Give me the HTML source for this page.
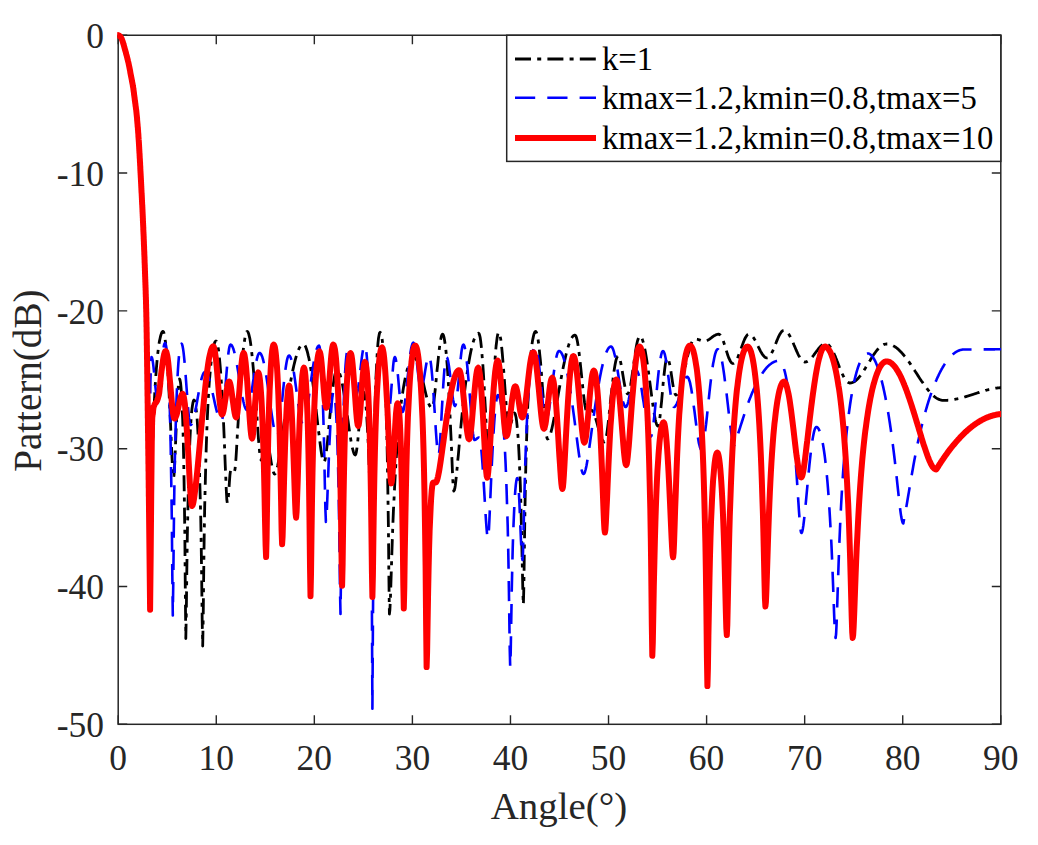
<!DOCTYPE html><html><head><meta charset="utf-8"><style>html,body{margin:0;padding:0;background:#fff;overflow:hidden}svg{display:block}text{font-family:"Liberation Serif",serif}</style></head><body>
<svg width="1038" height="845" viewBox="0 0 1038 845">
<rect width="1038" height="845" fill="#fff"/>
<defs><clipPath id="c"><rect x="117.2" y="20" width="883.80" height="720"/></clipPath></defs>
<rect x="118.2" y="35.25" width="882.60" height="689.05" fill="none" stroke="#262626" stroke-width="1.5"/><path d="M118.20 724.3v-9M118.20 35.25v9M216.27 724.3v-9M216.27 35.25v9M314.33 724.3v-9M314.33 35.25v9M412.40 724.3v-9M412.40 35.25v9M510.47 724.3v-9M510.47 35.25v9M608.53 724.3v-9M608.53 35.25v9M706.60 724.3v-9M706.60 35.25v9M804.67 724.3v-9M804.67 35.25v9M902.73 724.3v-9M902.73 35.25v9M1000.80 724.3v-9M1000.80 35.25v9M118.2 35.25h9M1000.8 35.25h-9M118.2 173.06h9M1000.8 173.06h-9M118.2 310.87h9M1000.8 310.87h-9M118.2 448.68h9M1000.8 448.68h-9M118.2 586.49h9M1000.8 586.49h-9M118.2 724.30h9M1000.8 724.30h-9" stroke="#262626" stroke-width="1.4" fill="none"/><g font-size="35.5" fill="#262626"><text x="118.20" y="769.5" text-anchor="middle">0</text><text x="216.27" y="769.5" text-anchor="middle">10</text><text x="314.33" y="769.5" text-anchor="middle">20</text><text x="412.40" y="769.5" text-anchor="middle">30</text><text x="510.47" y="769.5" text-anchor="middle">40</text><text x="608.53" y="769.5" text-anchor="middle">50</text><text x="706.60" y="769.5" text-anchor="middle">60</text><text x="804.67" y="769.5" text-anchor="middle">70</text><text x="902.73" y="769.5" text-anchor="middle">80</text><text x="1000.80" y="769.5" text-anchor="middle">90</text><text x="104" y="48.05" text-anchor="end">0</text><text x="104" y="185.86" text-anchor="end">-10</text><text x="104" y="323.67" text-anchor="end">-20</text><text x="104" y="461.48" text-anchor="end">-30</text><text x="104" y="599.29" text-anchor="end">-40</text><text x="104" y="737.10" text-anchor="end">-50</text></g><text x="559" y="819" text-anchor="middle" font-size="38.9" fill="#262626">Angle(°)</text><text transform="translate(41.2,380.7) rotate(-90)" text-anchor="middle" font-size="39.1" fill="#262626">Pattern(dB)</text>
<g clip-path="url(#c)" fill="none" stroke-linejoin="round"><path d="M118.2 35.2 118.5 35.4 119.0 35.6 119.5 35.8 120.0 36.3 120.5 36.8 120.9 37.4 121.5 38.3 122.1 39.8 122.3 40.5 122.6 41.3 122.9 42.2 123.2 43.1 123.5 44.2 123.8 45.2 124.1 46.3 124.4 47.4 124.7 48.5 125.0 49.6 125.3 50.7 125.6 51.7 125.9 52.7 126.1 53.7 126.4 54.7 126.7 55.6 126.9 56.6 127.2 57.6 127.4 58.6 127.7 59.6 127.9 60.6 128.1 61.5 128.4 62.5 128.6 63.5 128.8 64.5 129.0 65.5 129.2 66.4 129.4 67.4 129.6 68.4 129.8 69.4 130.0 70.4 130.2 71.4 130.3 72.3 130.5 73.3 130.7 74.3 130.9 75.3 131.1 76.3 131.3 77.3 131.5 78.3 131.7 79.3 131.9 80.3 132.0 81.2 132.2 82.2 132.4 83.2 132.6 84.2 132.8 85.2 132.9 86.2 133.1 87.2 133.3 88.3 133.4 89.3 133.6 90.4 133.7 91.4 133.9 92.5 134.0 93.6 134.1 94.6 134.3 95.7 134.4 96.8 134.6 97.9 134.7 99.0 134.8 100.0 135.0 100.9 135.1 101.9 135.2 102.9 135.4 104.0 135.5 105.0 135.6 106.0 135.8 107.0 135.9 108.0 136.0 109.0 136.2 110.0 136.3 111.0 136.4 112.0 136.5 113.0 136.6 114.0 136.7 115.0 136.8 115.9 136.9 116.9 137.0 117.8 137.1 118.8 137.1 119.7 137.2 120.7 137.3 121.8 137.4 122.9 137.5 124.0 137.6 124.9 137.6 125.7 137.7 126.6 137.8 127.4 137.9 128.2 137.9 129.1 138.0 130.0 138.1 130.9 138.1 131.8 138.2 132.8 138.3 133.8 138.4 134.9 138.4 136.1 138.5 137.3 138.6 138.6 138.7 140.0 138.8 140.8 138.8 141.6 138.9 142.4 138.9 143.2 139.0 144.1 139.0 144.9 139.1 145.8 139.1 146.7 139.2 147.6 139.2 148.5 139.3 149.4 139.3 150.4 139.4 151.3 139.4 152.3 139.5 153.3 139.6 154.3 139.6 155.4 139.7 156.4 139.7 157.5 139.8 158.6 139.9 159.8 139.9 160.9 140.0 162.1 140.1 163.3 140.1 164.6 140.2 165.8 140.3 167.1 140.3 168.4 140.4 169.8 140.4 170.6 140.5 171.5 140.5 172.3 140.6 173.2 140.6 174.1 140.7 174.9 140.7 175.9 140.8 176.8 140.8 177.7 140.9 178.7 140.9 179.6 141.0 180.6 141.0 181.6 141.1 182.5 141.1 183.5 141.2 184.6 141.2 185.6 141.3 186.6 141.3 187.6 141.4 188.7 141.4 189.7 141.5 190.8 141.5 191.8 141.6 192.9 141.7 193.9 141.7 195.0 141.8 196.1 141.8 197.1 141.9 198.2 141.9 199.3 142.0 200.4 142.0 201.5 142.1 202.5 142.1 203.6 142.2 204.7 142.3 205.8 142.3 206.9 142.4 207.9 142.4 209.0 142.5 210.1 142.5 211.2 142.6 212.2 142.6 213.3 142.7 214.3 142.7 215.4 142.8 216.4 142.8 217.5 142.9 218.5 142.9 219.5 142.9 220.5 143.0 221.5 143.0 222.5 143.1 223.6 143.1 224.6 143.2 225.6 143.2 226.6 143.3 227.6 143.3 228.6 143.3 229.7 143.4 230.7 143.4 231.7 143.5 232.7 143.5 233.7 143.6 234.7 143.6 235.8 143.7 236.8 143.7 237.8 143.7 238.8 143.8 239.8 143.8 240.8 143.9 241.9 143.9 242.9 143.9 243.9 144.0 244.9 144.0 245.9 144.1 246.9 144.1 248.0 144.1 249.0 144.2 250.0 144.2 251.0 144.3 252.0 144.3 253.0 144.3 254.1 144.4 255.1 144.4 256.1 144.5 257.1 144.5 258.1 144.5 259.1 144.6 260.2 144.6 261.2 144.6 262.2 144.7 263.2 144.7 264.2 144.8 265.2 144.8 266.3 144.8 267.3 144.9 268.3 144.9 269.3 144.9 270.3 145.0 271.3 145.0 272.3 145.0 273.3 145.1 274.2 145.1 275.2 145.1 276.1 145.2 277.1 145.2 278.0 145.2 278.9 145.3 279.9 145.3 280.8 145.3 281.7 145.4 282.6 145.4 283.5 145.4 284.4 145.5 285.3 145.5 286.2 145.5 287.1 145.6 288.0 145.6 289.0 145.6 289.9 145.7 290.8 145.7 291.7 145.7 292.7 145.8 293.6 145.8 294.6 145.8 295.5 145.8 296.5 145.9 297.5 145.9 298.4 145.9 299.4 146.0 300.5 146.0 301.5 146.0 302.5 146.0 303.6 146.1 304.6 146.1 305.7 146.1 306.8 146.2 308.0 146.2 309.1 146.2 310.3 146.2 311.4 146.3 312.6 146.3 313.9 146.3 315.1 146.3 316.4 146.4 317.7 146.4 319.0 146.4 319.8 146.4 320.6 146.4 321.5 146.5 322.3 146.5 323.2 146.5 324.0 146.5 324.9 146.5 325.7 146.5 326.6 146.6 327.5 146.6 328.4 146.6 329.3 146.6 330.2 146.6 331.2 146.6 332.1 146.6 333.0 146.7 334.0 146.7 334.9 146.7 335.9 146.7 336.8 146.7 337.8 146.7 338.8 146.7 339.8 146.8 340.7 146.8 341.7 146.8 342.7 146.8 343.7 146.8 344.7 146.8 345.7 146.8 346.7 146.9 347.8 146.9 348.8 146.9 349.8 146.9 350.8 146.9 351.9 146.9 352.9 146.9 353.9 146.9 355.0 147.0 356.0 147.0 357.1 147.0 358.1 147.0 359.2 147.0 360.2 147.0 361.3 147.0 362.4 147.0 363.4 147.1 364.5 147.1 365.5 147.1 366.6 147.1 367.7 147.1 368.7 147.1 369.8 147.1 370.9 147.1 371.9 147.2 373.0 147.2 374.0 147.2 375.1 147.2 376.2 147.2 377.2 147.2 378.3 147.2 379.4 147.3 380.4 147.3 381.5 147.3 382.5 147.3 383.6 147.3 384.6 147.3 385.7 147.3 386.7 147.3 387.8 147.4 388.8 147.4 389.8 147.4 390.9 147.4 391.9 147.4 392.9 147.4 394.0 147.4 395.0 147.4 396.0 147.5 397.0 147.5 398.0 147.5 399.0 147.5 400.0 147.5 401.0 147.5 402.0 147.5 403.0 147.6 404.0 147.6 405.0 147.6 406.0 147.6 407.0 147.6 408.0 147.6 409.0 147.6 410.0 147.7 411.1 147.7 412.1 147.7 413.1 147.7 414.1 147.7 415.1 147.7 416.1 147.7 417.1 147.8 418.1 147.8 419.1 147.8 420.1 147.8 421.1 147.8 422.1 147.8 423.1 147.8 424.1 147.9 425.1 147.9 426.1 147.9 427.1 147.9 428.1 147.9 429.1 147.9 430.1 147.9 431.1 148.0 432.1 148.0 433.1 148.0 434.1 148.0 435.1 148.0 436.1 148.0 437.1 148.0 438.1 148.1 439.1 148.1 440.1 148.1 441.1 148.1 442.1 148.1 443.1 148.1 444.1 148.1 445.1 148.2 446.1 148.2 447.0 148.2 448.0 148.2 449.0 148.2 450.0 148.2 451.0 148.2 452.0 148.3 453.0 148.3 454.0 148.3 455.0 148.3 456.0 148.3 457.0 148.3 458.0 148.3 459.0 148.4 460.0 148.4 461.0 148.4 462.0 148.4 463.0 148.4 464.0 148.4 465.0 148.4 466.0 148.4 467.0 148.5 468.0 148.5 469.0 148.5 470.0 148.5 471.0 148.5 472.0 148.5 473.0 148.5 474.0 148.5 475.0 148.6 476.0 148.6 477.0 148.6 478.0 148.6 479.0 148.6 480.0 148.9 520.0 149.3 560.0 149.8 551.6 150.3 531.8 150.8 509.0 151.3 487.3 151.8 467.8 152.3 450.6 152.9 435.6 153.4 422.3 153.9 410.6 154.4 400.1 154.9 390.8 155.4 382.5 155.9 375.0 156.4 368.3 156.9 362.4 157.4 357.1 157.9 352.3 158.4 348.2 158.9 344.5 159.4 341.4 160.0 338.7 160.5 336.4 161.0 334.6 161.5 333.2 162.0 332.2 162.5 331.6 163.0 331.4 163.5 331.8 164.0 333.2 164.5 335.4 165.0 338.5 165.5 342.5 166.0 347.3 166.5 352.8 167.0 359.2 167.5 366.3 168.0 374.1 168.5 382.6 169.0 391.7 169.5 401.5 170.0 412.0 170.5 423.0 171.0 434.6 171.5 446.3 172.0 457.8 172.5 468.0 173.0 475.3 173.5 478.0 174.0 475.2 174.5 467.8 175.0 457.3 175.5 445.3 176.0 432.8 176.5 420.5 177.0 409.0 177.5 398.9 178.0 390.5 178.5 384.2 179.0 380.3 179.5 379.0 180.0 380.0 180.6 383.1 181.1 388.3 181.6 396.0 182.1 406.2 182.7 419.7 183.2 437.1 183.7 459.7 184.2 489.6 184.8 530.8 185.3 589.1 185.8 638.5 186.3 613.9 186.8 572.6 187.3 537.0 187.9 508.8 188.4 486.2 188.9 467.9 189.4 452.8 189.9 440.4 190.4 430.1 190.9 421.6 191.4 414.7 191.9 409.3 192.5 405.2 193.0 402.3 193.5 400.6 194.0 400.0 194.5 400.5 195.0 402.0 195.5 404.6 196.0 408.2 196.6 413.0 197.1 419.0 197.6 426.4 198.1 435.4 198.6 446.1 199.1 458.9 199.6 474.3 200.1 492.9 200.7 515.7 201.2 544.1 201.7 579.8 202.2 621.3 202.7 646.0 203.2 618.2 203.7 573.5 204.2 536.1 204.7 506.4 205.3 482.4 205.8 462.6 206.3 445.8 206.8 431.4 207.3 418.9 207.8 407.9 208.3 398.3 208.8 389.7 209.3 382.1 209.9 375.4 210.4 369.4 210.9 364.1 211.4 359.5 211.9 355.5 212.4 352.0 212.9 349.0 213.4 346.5 214.0 344.5 214.5 343.0 215.0 341.9 215.5 341.2 216.0 341.0 216.5 341.4 217.0 342.5 217.5 344.5 218.1 347.1 218.6 350.6 219.1 354.8 219.6 359.7 220.1 365.4 220.6 371.7 221.1 378.9 221.7 386.7 222.2 395.4 222.7 404.8 223.2 415.0 223.7 426.1 224.2 438.0 224.7 450.8 225.2 464.3 225.8 477.8 226.3 490.3 226.8 499.5 227.3 503.0 227.8 501.3 228.4 496.5 228.9 489.7 229.4 482.1 229.9 475.3 230.5 470.7 231.0 469.0 231.5 469.1 232.0 469.4 232.5 469.8 233.0 470.2 233.5 470.6 234.0 470.9 234.5 471.0 235.0 469.4 235.5 464.8 236.0 458.0 236.5 449.8 237.0 440.9 237.5 431.8 238.1 422.8 238.6 413.9 239.1 405.3 239.6 397.1 240.1 389.3 240.6 381.8 241.1 374.8 241.6 368.2 242.1 362.1 242.6 356.5 243.1 351.4 243.6 346.8 244.2 342.8 244.7 339.4 245.2 336.5 245.7 334.3 246.2 332.7 246.7 331.7 247.2 331.4 247.7 331.7 248.2 332.5 248.7 333.9 249.2 335.8 249.8 338.3 250.3 341.2 250.8 344.7 251.3 348.6 251.8 353.0 252.3 357.9 252.8 363.1 253.3 368.7 253.8 374.6 254.4 380.9 254.9 387.5 255.4 394.3 255.9 401.4 256.4 408.6 256.9 416.0 257.4 423.5 257.9 430.9 258.4 438.2 259.0 445.0 259.5 451.0 260.0 455.8 260.5 458.9 261.0 460.0 261.5 459.5 262.0 458.1 262.5 455.9 263.0 453.1 263.5 450.0 264.0 446.9 264.5 444.1 265.0 441.9 265.5 440.5 266.0 440.0 266.5 440.3 267.0 441.1 267.5 442.5 268.0 444.4 268.6 446.7 269.1 449.4 269.6 452.3 270.1 455.3 270.6 458.5 271.1 461.6 271.6 464.5 272.1 467.2 272.7 469.5 273.2 471.4 273.7 472.8 274.2 473.7 274.7 474.0 275.2 473.7 275.7 473.0 276.2 471.8 276.7 470.1 277.2 468.0 277.7 465.6 278.2 462.9 278.7 460.0 279.2 456.8 279.7 453.6 280.2 450.2 280.7 446.7 281.2 443.1 281.7 439.6 282.2 436.0 282.7 432.4 283.2 428.8 283.7 425.3 284.2 421.7 284.7 418.3 285.2 414.8 285.7 411.4 286.2 408.0 286.7 404.7 287.2 401.5 287.7 398.3 288.2 395.2 288.7 392.1 289.3 389.1 289.8 386.2 290.3 383.4 290.8 380.6 291.3 377.9 291.8 375.3 292.3 372.8 292.8 370.4 293.3 368.1 293.8 365.8 294.3 363.7 294.8 361.7 295.3 359.7 295.8 357.9 296.3 356.2 296.8 354.6 297.3 353.1 297.8 351.7 298.3 350.4 298.8 349.2 299.3 348.2 299.8 347.2 300.3 346.4 300.8 345.8 301.3 345.2 301.8 344.8 302.3 344.4 302.8 344.3 303.3 344.2 303.8 344.3 304.3 344.7 304.8 345.3 305.3 346.1 305.8 347.2 306.3 348.5 306.8 350.0 307.3 351.7 307.8 353.7 308.3 355.9 308.9 358.2 309.4 360.8 309.9 363.6 310.4 366.5 310.9 369.6 311.4 372.9 311.9 376.3 312.4 379.8 312.9 383.5 313.4 387.4 313.9 391.3 314.4 395.4 314.9 399.5 315.4 403.7 315.9 408.0 316.4 412.3 316.9 416.7 317.4 421.1 317.9 425.5 318.4 429.9 319.0 434.2 319.5 438.5 320.0 442.6 320.5 446.5 321.0 450.2 321.5 453.5 322.0 456.4 322.5 458.8 323.0 460.5 323.5 461.6 324.0 462.0 324.5 461.5 325.0 460.0 325.5 457.6 326.0 454.4 326.5 450.5 327.0 446.1 327.5 441.4 328.0 436.3 328.5 431.1 329.0 425.7 329.5 420.3 330.0 415.0 330.5 409.7 331.0 404.6 331.5 399.6 332.0 394.9 332.5 390.5 333.0 386.5 333.5 382.8 334.0 379.5 334.5 376.6 335.0 374.3 335.5 372.4 336.0 371.1 336.5 370.3 337.0 370.0 337.5 370.1 338.0 370.5 338.5 371.2 339.0 372.2 339.5 373.4 340.1 374.8 340.6 376.5 341.1 378.4 341.6 380.6 342.1 382.9 342.6 385.5 343.1 388.2 343.6 391.2 344.1 394.2 344.6 397.4 345.1 400.7 345.6 404.2 346.1 407.6 346.7 411.2 347.2 414.8 347.7 418.4 348.2 422.0 348.7 425.6 349.2 429.1 349.7 432.5 350.2 435.8 350.7 439.0 351.2 442.0 351.7 444.8 352.2 447.3 352.8 449.5 353.3 451.4 353.8 453.0 354.3 454.1 354.8 454.8 355.3 455.0 355.8 454.3 356.3 452.2 356.8 449.0 357.4 444.7 357.9 439.6 358.4 433.9 358.9 427.9 359.4 421.8 359.9 415.8 360.4 410.2 360.9 405.0 361.4 400.5 362.0 396.9 362.5 394.2 363.0 392.6 363.5 392.0 364.0 392.6 364.5 394.5 365.1 397.6 365.6 402.0 366.1 407.5 366.6 414.3 367.1 422.4 367.6 431.7 368.2 442.4 368.7 454.5 369.2 468.1 369.7 483.3 370.2 500.3 370.7 518.8 371.3 537.7 371.8 553.5 372.3 560.0 372.8 536.5 373.3 496.3 373.9 461.4 374.4 433.6 374.9 411.4 375.4 393.4 375.9 378.8 376.5 366.8 377.0 357.0 377.5 349.1 378.0 342.9 378.5 338.2 379.1 334.9 379.6 332.9 380.1 332.3 380.6 332.8 381.1 334.1 381.7 336.4 382.2 339.7 382.7 344.0 383.2 349.3 383.7 355.9 384.2 363.8 384.8 373.2 385.3 384.4 385.8 397.7 386.3 413.7 386.8 433.0 387.3 456.8 387.8 487.0 388.4 526.6 388.9 577.7 389.4 614.0 389.9 609.8 390.4 598.7 390.9 583.8 391.4 567.8 391.9 552.1 392.4 537.3 392.9 523.7 393.4 511.1 394.0 499.6 394.5 489.0 395.0 479.3 395.5 470.4 396.0 462.1 396.5 454.4 397.0 447.2 397.5 440.5 398.0 434.3 398.5 428.5 399.0 423.1 399.5 417.9 400.0 413.2 400.5 408.7 401.0 404.4 401.5 400.5 402.1 396.7 402.6 393.2 403.1 389.9 403.6 386.8 404.1 383.9 404.6 381.2 405.1 378.7 405.6 376.3 406.1 374.1 406.6 372.1 407.1 370.2 407.6 368.4 408.1 366.8 408.6 365.4 409.1 364.1 409.6 362.9 410.2 361.8 410.7 360.9 411.2 360.1 411.7 359.4 412.2 358.9 412.7 358.4 413.2 358.1 413.7 358.0 414.2 357.9 414.7 358.0 415.2 358.3 415.7 358.8 416.2 359.4 416.7 360.3 417.3 361.3 417.8 362.5 418.3 363.8 418.8 365.3 419.3 367.0 419.8 368.7 420.3 370.6 420.8 372.6 421.3 374.6 421.8 376.8 422.3 378.9 422.8 381.1 423.4 383.4 423.9 385.6 424.4 387.8 424.9 390.0 425.4 392.1 425.9 394.2 426.4 396.2 426.9 398.1 427.4 399.8 427.9 401.4 428.4 402.9 428.9 404.2 429.5 405.3 430.0 406.3 430.5 407.0 431.0 407.6 431.5 407.9 432.0 408.0 432.5 407.5 433.0 405.9 433.5 403.5 434.0 400.2 434.5 396.2 435.0 391.7 435.5 386.8 436.0 381.6 436.5 376.2 437.0 370.8 437.6 365.4 438.1 360.3 438.6 355.3 439.1 350.8 439.6 346.6 440.1 343.0 440.6 339.9 441.1 337.4 441.6 335.6 442.1 334.6 442.6 334.2 443.1 334.6 443.6 335.8 444.1 337.7 444.6 340.5 445.1 344.0 445.7 348.3 446.2 353.3 446.7 359.0 447.2 365.4 447.7 372.6 448.2 380.5 448.7 389.0 449.2 398.3 449.7 408.4 450.2 419.2 450.7 430.7 451.3 442.9 451.8 455.6 452.3 468.2 452.8 479.6 453.3 487.9 453.8 491.0 454.3 490.3 454.8 488.4 455.3 485.4 455.8 481.4 456.3 476.7 456.8 471.5 457.3 466.0 457.8 460.2 458.4 454.5 458.9 448.7 459.4 442.9 459.9 437.3 460.4 431.8 460.9 426.4 461.4 421.2 461.9 416.2 462.4 411.3 462.9 406.5 463.4 401.9 463.9 397.5 464.4 393.2 464.9 389.1 465.4 385.1 465.9 381.2 466.5 377.5 467.0 374.0 467.5 370.6 468.0 367.3 468.5 364.2 469.0 361.2 469.5 358.4 470.0 355.7 470.5 353.2 471.0 350.8 471.5 348.6 472.0 346.5 472.5 344.5 473.0 342.7 473.5 341.1 474.0 339.6 474.6 338.3 475.1 337.1 475.6 336.1 476.1 335.2 476.6 334.5 477.1 333.9 477.6 333.5 478.1 333.3 478.6 333.2 479.1 333.7 479.6 335.2 480.2 337.7 480.7 341.2 481.2 345.6 481.7 350.9 482.2 357.0 482.8 363.9 483.3 371.6 483.8 380.0 484.3 389.0 484.8 398.6 485.4 408.8 485.9 419.4 486.4 430.4 486.9 441.4 487.4 451.9 488.0 461.1 488.5 467.6 489.0 470.0 489.5 467.3 490.0 460.1 490.5 450.0 491.0 438.6 491.6 426.9 492.1 415.3 492.6 404.2 493.1 393.7 493.6 383.8 494.1 374.6 494.6 366.2 495.1 358.6 495.6 351.8 496.1 346.0 496.7 341.1 497.2 337.3 497.7 334.5 498.2 332.9 498.7 332.3 499.2 332.8 499.7 334.2 500.2 336.5 500.8 339.6 501.3 343.6 501.8 348.3 502.3 353.7 502.8 359.7 503.3 366.1 503.9 373.0 504.4 380.1 504.9 387.3 505.4 394.6 505.9 401.7 506.4 408.5 506.9 414.7 507.5 420.1 508.0 424.3 508.5 427.1 509.0 428.0 509.5 427.7 510.0 426.8 510.5 425.4 511.0 423.6 511.5 421.6 512.0 419.4 512.5 417.4 513.0 415.6 513.5 414.2 514.0 413.3 514.5 413.0 515.0 413.5 515.5 415.0 516.1 417.5 516.6 421.1 517.1 425.9 517.6 431.8 518.2 439.0 518.7 447.6 519.2 457.9 519.7 470.0 520.3 484.3 520.8 501.1 521.3 521.0 521.8 544.1 522.4 569.8 522.9 593.7 523.4 604.6 523.9 584.2 524.4 547.0 524.9 513.0 525.4 485.1 525.9 462.1 526.5 442.8 527.0 426.5 527.5 412.5 528.0 400.4 528.5 389.8 529.0 380.4 529.5 372.3 530.0 365.1 530.5 358.7 531.0 353.2 531.5 348.4 532.0 344.3 532.5 340.8 533.1 337.9 533.6 335.5 534.1 333.7 534.6 332.4 535.1 331.7 535.6 331.4 536.1 331.8 536.6 332.9 537.2 334.7 537.7 337.3 538.2 340.5 538.7 344.3 539.2 348.8 539.7 353.8 540.3 359.3 540.8 365.2 541.3 371.5 541.8 378.1 542.3 385.0 542.8 392.0 543.4 399.1 543.9 406.2 544.4 413.2 544.9 419.8 545.4 425.9 545.9 431.2 546.5 435.4 547.0 438.1 547.5 439.0 548.0 438.8 548.5 438.4 549.0 437.7 549.5 436.6 550.0 435.4 550.5 433.9 551.0 432.1 551.5 430.2 552.0 428.1 552.5 425.8 553.0 423.5 553.5 421.0 554.0 418.4 554.5 415.7 555.0 413.0 555.5 410.2 556.0 407.4 556.5 404.6 557.0 401.7 557.5 398.9 558.0 396.0 558.5 393.1 559.0 390.3 559.5 387.4 560.0 384.6 560.5 381.8 561.0 379.1 561.5 376.4 562.0 373.7 562.5 371.1 563.0 368.6 563.5 366.1 564.0 363.7 564.5 361.3 565.0 359.1 565.5 356.9 566.0 354.8 566.5 352.7 567.0 350.8 567.5 349.0 568.0 347.3 568.5 345.6 569.0 344.1 569.5 342.7 570.0 341.4 570.5 340.2 571.0 339.2 571.5 338.2 572.0 337.4 572.5 336.7 573.0 336.1 573.5 335.7 574.0 335.4 574.5 335.2 575.0 335.1 575.5 335.4 576.0 336.2 576.5 337.7 577.0 339.6 577.5 342.1 578.0 345.0 578.5 348.4 579.0 352.2 579.5 356.3 580.0 360.7 580.5 365.3 581.0 370.1 581.5 375.0 582.0 379.9 582.5 384.8 583.0 389.5 583.5 394.1 584.0 398.3 584.5 402.2 585.0 405.5 585.5 408.3 586.0 410.3 586.5 411.6 587.0 412.0 587.5 411.9 588.0 411.7 588.5 411.4 589.0 411.0 589.5 410.6 590.0 410.3 590.5 410.1 591.0 410.0 591.5 410.1 592.0 410.4 592.5 411.0 593.0 411.7 593.5 412.6 594.0 413.7 594.5 415.0 595.0 416.4 595.5 418.0 596.0 419.6 596.5 421.4 597.0 423.2 597.5 425.0 598.0 426.9 598.5 428.7 599.0 430.5 599.5 432.3 600.0 434.0 600.5 435.5 601.0 436.9 601.5 438.2 602.0 439.3 602.5 440.3 603.0 441.0 603.5 441.6 604.0 441.9 604.5 442.0 605.0 441.6 605.5 440.4 606.0 438.4 606.5 435.7 607.0 432.5 607.5 428.8 608.0 424.7 608.5 420.3 609.0 415.6 609.5 410.9 610.0 406.0 610.5 401.2 611.0 396.3 611.6 391.6 612.1 387.0 612.6 382.5 613.1 378.3 613.6 374.4 614.1 370.7 614.6 367.4 615.1 364.5 615.6 361.9 616.1 359.8 616.6 358.2 617.1 357.0 617.6 356.2 618.1 356.0 618.6 356.3 619.1 357.0 619.6 358.2 620.1 359.9 620.6 362.0 621.1 364.4 621.6 367.2 622.1 370.1 622.6 373.2 623.1 376.3 623.6 379.4 624.1 382.3 624.6 385.1 625.1 387.6 625.6 389.7 626.1 391.5 626.6 392.8 627.1 393.5 627.6 393.8 628.1 393.5 628.6 392.7 629.1 391.4 629.6 389.5 630.2 387.2 630.7 384.6 631.2 381.6 631.7 378.3 632.2 374.8 632.7 371.2 633.2 367.5 633.8 363.7 634.3 360.0 634.8 356.4 635.3 353.0 635.8 349.7 636.3 346.7 636.8 344.0 637.3 341.7 637.9 339.7 638.4 338.2 638.9 337.0 639.4 336.3 639.9 336.1 640.4 336.2 640.9 336.7 641.4 337.4 641.9 338.3 642.4 339.6 642.9 341.1 643.4 342.8 643.9 344.8 644.4 347.0 644.9 349.5 645.4 352.1 645.9 355.0 646.4 358.0 646.9 361.2 647.4 364.5 647.9 368.0 648.4 371.5 648.9 375.2 649.4 378.9 649.9 382.7 650.4 386.5 650.9 390.3 651.4 394.1 651.9 397.8 652.4 401.5 652.9 405.1 653.4 408.5 653.9 411.7 654.4 414.7 654.9 417.5 655.4 420.0 655.9 422.1 656.4 423.7 656.9 425.0 657.4 425.7 657.9 426.0 658.4 425.4 658.9 423.5 659.5 420.6 660.0 416.7 660.5 412.1 661.0 406.9 661.6 401.3 662.1 395.5 662.6 389.7 663.1 384.0 663.6 378.5 664.2 373.5 664.7 369.0 665.2 365.1 665.7 362.0 666.3 359.8 666.8 358.4 667.3 357.9 667.8 358.2 668.3 359.1 668.8 360.6 669.3 362.7 669.9 365.2 670.4 368.1 670.9 371.2 671.4 374.6 671.9 378.0 672.4 381.4 672.9 384.6 673.4 387.5 674.0 390.1 674.5 392.2 675.0 393.7 675.5 394.7 676.0 395.0 676.5 394.9 677.0 394.6 677.5 394.0 678.0 393.2 678.5 392.3 679.0 391.1 679.6 389.7 680.1 388.2 680.6 386.5 681.1 384.7 681.6 382.8 682.1 380.7 682.6 378.6 683.1 376.4 683.6 374.1 684.1 371.8 684.6 369.4 685.1 367.1 685.7 364.7 686.2 362.4 686.7 360.1 687.2 357.9 687.7 355.7 688.2 353.6 688.7 351.6 689.2 349.8 689.7 348.0 690.2 346.4 690.7 344.9 691.2 343.5 691.8 342.3 692.3 341.3 692.8 340.5 693.3 339.8 693.8 339.4 694.3 339.1 694.8 339.0 695.3 339.0 695.8 339.1 696.3 339.1 696.8 339.2 697.4 339.3 697.9 339.5 698.4 339.6 698.9 339.8 699.4 339.9 699.9 340.1 700.4 340.2 700.9 340.4 701.4 340.5 701.9 340.7 702.5 340.8 703.0 340.9 703.5 340.9 704.0 341.0 704.5 341.0 705.0 341.0 705.5 340.9 706.0 340.8 706.5 340.7 707.0 340.5 707.5 340.3 708.0 340.0 708.6 339.7 709.1 339.4 709.6 339.1 710.1 338.7 710.6 338.4 711.1 338.0 711.6 337.6 712.1 337.2 712.6 336.8 713.1 336.5 713.6 336.1 714.1 335.8 714.6 335.5 715.2 335.2 715.7 334.9 716.2 334.7 716.7 334.5 717.2 334.4 717.7 334.3 718.2 334.2 718.7 334.2 719.2 334.3 719.7 334.6 720.2 335.0 720.7 335.6 721.2 336.4 721.7 337.4 722.2 338.5 722.8 339.7 723.3 341.0 723.8 342.5 724.3 344.0 724.8 345.6 725.3 347.2 725.8 348.8 726.3 350.5 726.8 352.1 727.3 353.7 727.8 355.2 728.3 356.6 728.8 358.0 729.4 359.2 729.9 360.3 730.4 361.2 730.9 362.0 731.4 362.7 731.9 363.1 732.4 363.4 732.9 363.5 733.4 363.4 733.9 363.2 734.4 362.9 734.9 362.4 735.4 361.8 735.9 361.0 736.4 360.2 736.9 359.2 737.4 358.1 737.9 357.0 738.4 355.7 738.9 354.4 739.4 353.1 739.9 351.7 740.4 350.3 741.0 348.8 741.5 347.4 742.0 346.0 742.5 344.6 743.0 343.2 743.5 341.9 744.0 340.7 744.5 339.5 745.0 338.5 745.5 337.5 746.0 336.7 746.5 335.9 747.0 335.3 747.5 334.8 748.0 334.5 748.5 334.3 749.0 334.2 749.5 334.2 750.0 334.4 750.5 334.6 751.0 334.9 751.5 335.3 752.0 335.8 752.5 336.3 753.0 337.0 753.5 337.7 754.0 338.4 754.5 339.3 755.0 340.1 755.5 341.0 756.0 342.0 756.5 343.0 757.0 344.0 757.5 345.0 758.0 346.0 758.5 347.1 759.0 348.1 759.5 349.1 760.0 350.1 760.5 351.1 761.0 352.0 761.5 352.8 762.0 353.7 762.5 354.4 763.0 355.1 763.5 355.8 764.0 356.3 764.5 356.8 765.0 357.2 765.5 357.5 766.0 357.7 766.5 357.9 767.0 357.9 767.5 357.8 768.0 357.7 768.5 357.4 769.0 357.0 769.5 356.5 770.0 355.8 770.5 355.1 771.0 354.3 771.5 353.4 772.0 352.4 772.5 351.4 773.0 350.3 773.5 349.1 774.0 347.9 774.5 346.7 775.0 345.4 775.5 344.2 776.0 342.9 776.5 341.6 777.0 340.4 777.5 339.2 778.0 338.0 778.5 336.9 779.0 335.9 779.5 334.9 780.0 334.0 780.5 333.2 781.0 332.5 781.5 331.8 782.0 331.3 782.5 330.9 783.0 330.6 783.5 330.5 784.0 330.4 784.5 330.4 785.0 330.6 785.5 330.8 786.0 331.1 786.5 331.5 787.0 332.0 787.5 332.5 788.0 333.1 788.5 333.8 789.0 334.6 789.5 335.4 790.0 336.3 790.5 337.3 791.0 338.3 791.5 339.3 792.0 340.4 792.5 341.5 793.0 342.6 793.5 343.8 794.0 345.0 794.5 346.1 795.0 347.3 795.5 348.5 796.0 349.7 796.5 350.8 797.0 351.9 797.5 353.0 798.0 354.1 798.5 355.1 799.0 356.0 799.5 356.9 800.0 357.8 800.5 358.5 801.0 359.2 801.5 359.9 802.0 360.4 802.5 360.9 803.0 361.3 803.5 361.6 804.0 361.8 804.5 362.0 805.0 362.0 805.5 362.0 806.0 361.9 806.5 361.8 807.0 361.6 807.5 361.3 808.0 361.0 808.6 360.7 809.1 360.3 809.6 359.9 810.1 359.4 810.6 358.9 811.1 358.4 811.6 357.8 812.1 357.2 812.6 356.6 813.1 355.9 813.6 355.3 814.1 354.6 814.6 353.9 815.1 353.2 815.7 352.5 816.2 351.8 816.7 351.1 817.2 350.4 817.7 349.8 818.2 349.1 818.7 348.5 819.2 347.9 819.7 347.3 820.2 346.8 820.7 346.3 821.2 345.8 821.7 345.4 822.2 345.0 822.8 344.7 823.3 344.4 823.8 344.1 824.3 343.9 824.8 343.8 825.3 343.7 825.8 343.7 826.3 343.7 826.8 343.9 827.3 344.1 827.8 344.4 828.3 344.7 828.8 345.2 829.3 345.7 829.8 346.3 830.3 347.0 830.8 347.7 831.3 348.5 831.8 349.4 832.4 350.3 832.9 351.3 833.4 352.3 833.9 353.4 834.4 354.5 834.9 355.7 835.4 356.8 835.9 358.1 836.4 359.3 836.9 360.6 837.4 361.8 837.9 363.1 838.4 364.4 838.9 365.7 839.4 367.0 839.9 368.2 840.4 369.4 840.9 370.7 841.4 371.8 841.9 373.0 842.4 374.1 842.9 375.1 843.4 376.2 844.0 377.1 844.5 378.0 845.0 378.8 845.5 379.6 846.0 380.3 846.5 380.9 847.0 381.5 847.5 381.9 848.0 382.3 848.5 382.6 849.0 382.8 849.5 383.0 850.0 383.0 850.5 383.0 851.0 382.9 851.5 382.8 852.0 382.7 852.5 382.5 853.0 382.3 853.5 382.1 854.0 381.8 854.5 381.5 855.0 381.2 855.5 380.8 856.0 380.4 856.5 380.0 857.0 379.5 857.5 379.0 858.0 378.5 858.5 377.9 859.0 377.3 859.5 376.7 860.0 376.1 860.5 375.4 861.0 374.7 861.5 374.0 862.0 373.3 862.5 372.6 863.0 371.8 863.5 371.1 864.0 370.3 864.5 369.5 865.0 368.7 865.5 367.9 866.0 367.0 866.5 366.2 867.0 365.4 867.5 364.5 868.0 363.7 868.6 362.9 869.1 362.0 869.6 361.2 870.1 360.4 870.6 359.5 871.1 358.7 871.6 357.9 872.1 357.1 872.6 356.3 873.1 355.6 873.6 354.8 874.1 354.1 874.6 353.4 875.1 352.7 875.6 352.0 876.1 351.3 876.6 350.7 877.1 350.1 877.6 349.5 878.1 348.9 878.6 348.4 879.1 347.9 879.6 347.4 880.1 346.9 880.6 346.5 881.1 346.1 881.6 345.7 882.1 345.4 882.6 345.1 883.1 344.9 883.6 344.6 884.1 344.4 884.6 344.3 885.1 344.2 885.6 344.1 886.1 344.0 886.6 344.0 887.1 344.0 887.6 344.0 888.1 344.1 888.6 344.2 889.1 344.3 889.6 344.4 890.1 344.5 890.6 344.7 891.1 344.8 891.6 345.0 892.1 345.2 892.6 345.5 893.1 345.7 893.6 346.0 894.2 346.3 894.7 346.6 895.2 346.9 895.7 347.3 896.2 347.6 896.7 348.0 897.2 348.4 897.7 348.8 898.2 349.2 898.7 349.7 899.2 350.2 899.7 350.7 900.2 351.2 900.7 351.7 901.2 352.2 901.7 352.7 902.2 353.3 902.7 353.9 903.2 354.5 903.7 355.1 904.2 355.7 904.7 356.3 905.2 356.9 905.7 357.6 906.2 358.2 906.7 358.9 907.2 359.6 907.7 360.3 908.3 361.0 908.8 361.7 909.3 362.4 909.8 363.1 910.3 363.9 910.8 364.6 911.3 365.4 911.8 366.1 912.3 366.9 912.8 367.6 913.3 368.4 913.8 369.2 914.3 369.9 914.8 370.7 915.3 371.5 915.8 372.2 916.3 373.0 916.8 373.8 917.3 374.6 917.8 375.4 918.3 376.1 918.8 376.9 919.3 377.7 919.8 378.4 920.3 379.2 920.8 379.9 921.3 380.7 921.8 381.4 922.4 382.2 922.9 382.9 923.4 383.6 923.9 384.4 924.4 385.1 924.9 385.8 925.4 386.5 925.9 387.1 926.4 387.8 926.9 388.5 927.4 389.1 927.9 389.8 928.4 390.4 928.9 391.0 929.4 391.6 929.9 392.1 930.4 392.7 930.9 393.3 931.4 393.8 931.9 394.3 932.4 394.8 932.9 395.3 933.4 395.7 933.9 396.2 934.4 396.6 934.9 397.0 935.4 397.4 935.9 397.7 936.5 398.1 937.0 398.4 937.5 398.7 938.0 398.9 938.5 399.2 939.0 399.4 939.5 399.6 940.0 399.8 940.5 400.0 941.0 400.1 941.5 400.2 942.0 400.3 942.5 400.4 943.0 400.4 943.5 400.4 944.0 400.4 944.5 400.4 945.0 400.4 945.5 400.4 946.0 400.3 946.5 400.3 947.0 400.3 947.5 400.3 948.0 400.2 948.5 400.2 949.0 400.1 949.5 400.1 950.0 400.0 950.5 400.0 951.0 399.9 951.5 399.9 952.0 399.8 952.5 399.7 953.0 399.7 953.5 399.6 954.0 399.5 954.5 399.4 955.0 399.3 955.5 399.2 956.0 399.1 956.5 399.0 957.0 398.9 957.5 398.8 958.0 398.7 958.5 398.6 959.0 398.5 959.5 398.4 960.0 398.2 960.5 398.1 961.0 398.0 961.5 397.9 962.0 397.7 962.5 397.6 963.0 397.5 963.5 397.3 964.0 397.2 964.5 397.0 965.0 396.9 965.5 396.7 966.0 396.6 966.5 396.4 967.0 396.3 967.5 396.1 968.0 396.0 968.5 395.8 969.0 395.7 969.5 395.5 970.0 395.3 970.5 395.2 971.0 395.0 971.5 394.9 972.0 394.7 972.5 394.5 973.0 394.4 973.5 394.2 974.0 394.0 974.5 393.9 975.0 393.7 975.5 393.5 976.0 393.4 976.5 393.2 977.0 393.0 977.5 392.9 978.0 392.7 978.5 392.6 979.0 392.4 979.5 392.2 980.0 392.1 980.5 391.9 981.0 391.8 981.5 391.6 982.0 391.5 982.5 391.3 983.0 391.2 983.5 391.0 984.0 390.9 984.5 390.7 985.0 390.6 985.5 390.4 986.0 390.3 986.5 390.2 987.0 390.0 987.5 389.9 988.0 389.8 988.5 389.7 989.0 389.5 989.5 389.4 990.0 389.3 990.5 389.2 991.0 389.1 991.5 389.0 992.0 388.9 992.5 388.8 993.0 388.7 993.5 388.6 994.0 388.5 994.5 388.4 995.0 388.3 995.5 388.2 996.0 388.2 996.5 388.1 997.0 388.0 997.5 388.0 998.0 387.9 998.5 387.9 999.0 387.8 999.5 387.8 1000.0 387.7 1000.5 387.7 1001.0 387.6 1001.5 387.6 1002.0 387.6 1002.5 387.6 1003.0 387.5 1003.5 387.5 1004.0 387.5 1004.5 387.5 1005.0 387.5" stroke="#000" stroke-width="2.8" stroke-dasharray="16 6.2 4 6.2"/>
<path d="M118.2 35.2 118.5 35.4 119.0 35.6 119.5 35.8 120.0 36.3 120.5 36.8 120.9 37.4 121.5 38.3 122.1 39.8 122.3 40.5 122.6 41.3 122.9 42.2 123.2 43.1 123.5 44.2 123.8 45.2 124.1 46.3 124.4 47.4 124.7 48.5 125.0 49.6 125.3 50.7 125.6 51.7 125.9 52.7 126.1 53.7 126.4 54.7 126.7 55.6 126.9 56.6 127.2 57.6 127.4 58.6 127.7 59.6 127.9 60.6 128.1 61.5 128.4 62.5 128.6 63.5 128.8 64.5 129.0 65.5 129.2 66.4 129.4 67.4 129.6 68.4 129.8 69.4 130.0 70.4 130.2 71.4 130.3 72.3 130.5 73.3 130.7 74.3 130.9 75.3 131.1 76.3 131.3 77.3 131.5 78.3 131.7 79.3 131.9 80.3 132.0 81.2 132.2 82.2 132.4 83.2 132.6 84.2 132.8 85.2 132.9 86.2 133.1 87.2 133.3 88.3 133.4 89.3 133.6 90.4 133.7 91.4 133.9 92.5 134.0 93.6 134.1 94.6 134.3 95.7 134.4 96.8 134.6 97.9 134.7 99.0 134.8 100.0 135.0 100.9 135.1 101.9 135.2 102.9 135.4 104.0 135.5 105.0 135.6 106.0 135.8 107.0 135.9 108.0 136.0 109.0 136.2 110.0 136.3 111.0 136.4 112.0 136.5 113.0 136.6 114.0 136.7 115.0 136.8 115.9 136.9 116.9 137.0 117.8 137.1 118.8 137.1 119.7 137.2 120.7 137.3 121.8 137.4 122.9 137.5 124.0 137.6 124.9 137.6 125.7 137.7 126.6 137.8 127.4 137.9 128.2 137.9 129.1 138.0 130.0 138.1 130.9 138.1 131.8 138.2 132.8 138.3 133.8 138.4 134.9 138.4 136.1 138.5 137.3 138.6 138.6 138.7 140.0 138.8 140.8 138.8 141.6 138.9 142.4 138.9 143.2 139.0 144.1 139.0 144.9 139.1 145.8 139.1 146.7 139.2 147.6 139.2 148.5 139.3 149.4 139.3 150.4 139.4 151.3 139.4 152.3 139.5 153.3 139.6 154.3 139.6 155.4 139.7 156.4 139.7 157.5 139.8 158.6 139.9 159.8 139.9 160.9 140.0 162.1 140.1 163.3 140.1 164.6 140.2 165.8 140.3 167.1 140.3 168.4 140.4 169.8 140.4 170.6 140.5 171.5 140.5 172.3 140.6 173.2 140.6 174.1 140.7 174.9 140.7 175.9 140.8 176.8 140.8 177.7 140.9 178.7 140.9 179.6 141.0 180.6 141.0 181.6 141.1 182.5 141.1 183.5 141.2 184.6 141.2 185.6 141.3 186.6 141.3 187.6 141.4 188.7 141.4 189.7 141.5 190.8 141.5 191.8 141.6 192.9 141.7 193.9 141.7 195.0 141.8 196.1 141.8 197.1 141.9 198.2 141.9 199.3 142.0 200.4 142.0 201.5 142.1 202.5 142.1 203.6 142.2 204.7 142.3 205.8 142.3 206.9 142.4 207.9 142.4 209.0 142.5 210.1 142.5 211.2 142.6 212.2 142.6 213.3 142.7 214.3 142.7 215.4 142.8 216.4 142.8 217.5 142.9 218.5 142.9 219.5 142.9 220.5 143.0 221.5 143.0 222.5 143.1 223.6 143.1 224.6 143.2 225.6 143.2 226.6 143.3 227.6 143.3 228.6 143.3 229.7 143.4 230.7 143.4 231.7 143.5 232.7 143.5 233.7 143.6 234.7 143.6 235.8 143.7 236.8 143.7 237.8 143.7 238.8 143.8 239.8 143.8 240.8 143.9 241.9 143.9 242.9 143.9 243.9 144.0 244.9 144.0 245.9 144.1 246.9 144.1 248.0 144.1 249.0 144.2 250.0 144.2 251.0 144.3 252.0 144.3 253.0 144.3 254.1 144.4 255.1 144.4 256.1 144.5 257.1 144.5 258.1 144.5 259.1 144.6 260.2 144.6 261.2 144.6 262.2 144.7 263.2 144.7 264.2 144.8 265.2 144.8 266.3 144.8 267.3 144.9 268.3 144.9 269.3 144.9 270.3 145.0 271.3 145.0 272.3 145.0 273.3 145.1 274.2 145.1 275.2 145.1 276.1 145.2 277.1 145.2 278.0 145.2 278.9 145.3 279.9 145.3 280.8 145.3 281.7 145.4 282.6 145.4 283.5 145.4 284.4 145.5 285.3 145.5 286.2 145.5 287.1 145.6 288.0 145.6 289.0 145.6 289.9 145.7 290.8 145.7 291.7 145.7 292.7 145.8 293.6 145.8 294.6 145.8 295.5 145.8 296.5 145.9 297.5 145.9 298.4 145.9 299.4 146.0 300.5 146.0 301.5 146.0 302.5 146.1 303.6 146.1 304.6 146.1 305.7 146.1 306.8 146.2 308.0 146.2 309.1 146.2 310.3 146.2 311.4 146.3 312.6 146.3 313.9 146.3 315.1 146.3 316.4 146.4 317.7 146.4 319.0 146.4 319.8 146.4 320.6 146.4 321.4 146.5 322.3 146.5 323.1 146.5 324.0 146.5 324.8 146.5 325.7 146.5 326.5 146.5 327.4 146.6 328.3 146.6 329.1 146.6 330.0 146.6 330.9 146.6 331.8 146.6 332.7 146.6 333.6 146.7 334.5 146.7 335.4 146.7 336.4 146.7 337.3 146.7 338.2 146.7 339.2 146.7 340.1 146.8 341.1 146.8 342.0 146.8 343.0 146.8 343.9 146.8 344.9 146.8 345.9 146.8 346.9 146.8 347.8 146.9 348.8 146.9 349.8 146.9 350.8 146.9 351.8 146.9 352.8 146.9 353.8 146.9 354.8 146.9 355.8 146.9 356.9 147.0 357.9 147.0 358.9 147.0 359.9 147.0 361.0 147.0 362.0 147.0 363.1 147.0 364.1 147.0 365.1 147.1 366.2 147.1 367.3 147.1 368.3 147.1 369.4 147.1 370.4 147.1 371.5 147.1 372.6 147.1 373.6 147.1 374.7 147.2 375.8 147.2 376.9 147.2 378.0 147.2 379.0 147.2 380.1 147.2 381.2 147.2 382.3 147.2 383.4 147.2 384.5 147.3 385.6 147.3 386.7 147.3 387.8 147.3 388.9 147.3 390.0 147.3 391.1 147.3 392.2 147.3 393.3 147.3 394.4 147.4 395.5 147.4 396.7 147.4 397.8 147.4 398.9 147.4 400.0 147.4 400.9 147.4 401.8 147.4 402.7 147.4 403.6 147.4 404.6 147.5 405.5 147.5 406.4 147.5 407.4 147.5 408.3 147.5 409.2 147.5 410.2 147.5 411.1 147.5 412.1 147.5 413.0 147.5 414.0 147.5 414.9 147.6 415.9 147.6 416.9 147.6 417.8 147.6 418.8 147.6 419.8 147.6 420.7 147.6 421.7 147.6 422.7 147.6 423.7 147.6 424.6 147.6 425.6 147.6 426.6 147.7 427.6 147.7 428.6 147.7 429.6 147.7 430.6 147.7 431.6 147.7 432.6 147.7 433.6 147.7 434.6 147.7 435.6 147.7 436.6 147.7 437.6 147.7 438.6 147.8 439.6 147.8 440.7 147.8 441.7 147.8 442.7 147.8 443.7 147.8 444.7 147.8 445.7 147.8 446.8 147.8 447.8 147.8 448.8 147.8 449.8 147.8 450.9 147.8 451.9 147.9 452.9 147.9 453.9 147.9 455.0 147.9 456.0 147.9 457.0 147.9 458.1 147.9 459.1 147.9 460.1 147.9 461.1 147.9 462.2 147.9 463.2 147.9 464.2 148.0 465.3 148.0 466.3 148.0 467.3 148.0 468.4 148.0 469.4 148.0 470.4 148.0 471.5 148.0 472.5 148.0 473.5 148.0 474.6 148.0 475.6 148.0 476.6 148.0 477.6 148.0 478.7 148.1 479.7 148.1 480.7 148.1 481.7 148.1 482.8 148.1 483.8 148.1 484.8 148.1 485.8 148.1 486.9 148.1 487.9 148.1 488.9 148.1 489.9 148.1 490.9 148.1 491.9 148.2 493.0 148.2 494.0 148.2 495.0 148.2 496.0 148.2 497.0 148.2 498.0 148.2 499.0 148.2 500.0 148.5 550.0 148.8 600.0 149.3 488.5 149.9 418.7 150.4 381.8 151.0 362.9 151.5 357.0 152.0 357.7 152.5 359.7 153.0 362.9 153.5 367.1 154.0 371.9 154.5 377.2 155.0 382.5 155.5 387.5 156.0 391.8 156.5 395.2 157.0 397.3 157.5 398.0 158.0 397.3 158.5 395.4 159.0 392.3 159.5 388.2 160.0 383.4 160.5 378.0 161.0 372.3 161.5 366.7 162.0 361.2 162.5 356.1 163.0 351.6 163.5 348.0 164.0 345.2 164.5 343.6 165.0 343.0 165.5 343.7 166.0 345.6 166.6 348.9 167.1 353.7 167.6 360.0 168.1 368.0 168.6 378.0 169.2 390.3 169.7 405.4 170.2 424.1 170.7 447.6 171.2 477.9 171.8 518.4 172.3 573.2 172.8 615.4 173.3 580.6 173.8 530.5 174.3 491.4 174.8 461.5 175.4 437.9 175.9 418.9 176.4 403.2 176.9 390.2 177.4 379.4 177.9 370.3 178.4 362.9 178.9 356.8 179.5 352.0 180.0 348.3 180.5 345.7 181.0 344.2 181.5 343.7 182.0 344.2 182.5 345.8 183.0 348.4 183.5 351.9 184.0 356.3 184.5 361.4 185.0 367.2 185.5 373.5 186.0 380.2 186.5 387.0 187.0 393.9 187.5 400.7 188.0 407.1 188.5 412.9 189.0 417.9 189.5 421.7 190.0 424.2 190.5 425.0 191.0 424.8 191.5 424.3 192.0 423.5 192.5 422.3 193.0 420.9 193.5 419.2 194.0 417.2 194.5 415.0 195.0 412.7 195.5 410.1 196.0 407.5 196.5 404.7 197.0 401.9 197.5 399.0 198.0 396.2 198.5 393.4 199.0 390.7 199.5 388.0 200.0 385.5 200.5 383.1 201.0 380.9 201.5 378.9 202.0 377.1 202.5 375.6 203.0 374.3 203.5 373.3 204.0 372.6 204.5 372.1 205.0 372.0 205.5 372.1 206.0 372.4 206.5 373.0 207.0 373.7 207.5 374.6 208.0 375.7 208.5 377.0 209.0 378.5 209.5 380.1 210.0 381.9 210.5 383.8 211.0 385.8 211.5 388.0 212.0 390.2 212.5 392.4 213.0 394.7 213.5 397.0 214.0 399.3 214.5 401.6 215.0 403.9 215.5 406.1 216.0 408.2 216.5 410.2 217.0 412.1 217.5 413.9 218.0 415.5 218.5 416.9 219.0 418.1 219.5 419.1 220.0 419.9 220.5 420.5 221.0 420.9 221.5 421.0 222.0 420.2 222.5 418.1 223.0 414.6 223.5 410.0 224.0 404.7 224.5 398.7 225.0 392.4 225.5 385.9 226.0 379.4 226.5 373.1 227.0 367.1 227.5 361.6 228.0 356.7 228.5 352.5 229.0 349.1 229.5 346.6 230.0 345.1 230.5 344.6 231.0 344.7 231.5 345.1 232.0 345.8 232.5 346.7 233.0 347.9 233.5 349.3 234.0 351.0 234.5 352.9 235.0 355.0 235.5 357.2 236.0 359.7 236.5 362.3 237.0 365.0 237.5 367.9 238.0 370.8 238.5 373.8 239.0 376.9 239.5 379.9 240.0 383.0 240.5 386.0 241.0 389.0 241.5 391.9 242.0 394.6 242.5 397.3 243.0 399.7 243.5 402.0 244.0 404.0 244.5 405.8 245.0 407.3 245.5 408.4 246.0 409.3 246.5 409.8 247.0 410.0 247.5 409.7 248.0 409.0 248.5 407.8 249.0 406.1 249.5 404.0 250.0 401.6 250.5 398.8 251.0 395.8 251.5 392.5 252.0 389.1 252.5 385.6 253.0 382.1 253.6 378.6 254.1 375.1 254.6 371.7 255.1 368.5 255.6 365.5 256.1 362.8 256.6 360.3 257.1 358.1 257.6 356.3 258.1 354.9 258.6 353.8 259.1 353.2 259.6 353.0 260.1 353.1 260.6 353.6 261.1 354.3 261.6 355.4 262.2 356.7 262.7 358.3 263.2 360.2 263.7 362.3 264.2 364.6 264.7 367.2 265.2 370.0 265.7 373.0 266.3 376.1 266.8 379.4 267.3 382.9 267.8 386.4 268.3 390.0 268.8 393.7 269.3 397.4 269.8 401.2 270.3 404.9 270.9 408.6 271.4 412.2 271.9 415.7 272.4 419.0 272.9 422.2 273.4 425.1 273.9 427.8 274.4 430.2 275.0 432.2 275.5 433.8 276.0 435.0 276.5 435.8 277.0 436.0 277.5 435.5 278.0 434.2 278.5 432.0 279.0 429.0 279.5 425.4 280.0 421.3 280.5 416.8 281.0 412.0 281.5 407.1 282.0 401.9 282.5 396.8 283.0 391.7 283.5 386.7 284.0 381.9 284.5 377.4 285.0 373.1 285.5 369.2 286.0 365.7 286.5 362.7 287.0 360.1 287.5 358.1 288.0 356.7 288.5 355.8 289.0 355.5 289.5 355.7 290.0 356.3 290.5 357.2 291.0 358.6 291.5 360.2 292.0 362.3 292.5 364.6 293.0 367.2 293.5 370.1 294.0 373.3 294.5 376.6 295.0 380.1 295.5 383.7 296.0 387.4 296.5 391.2 297.0 395.0 297.5 398.7 298.0 402.4 298.5 405.9 299.0 409.3 299.5 412.4 300.0 415.3 300.5 417.8 301.0 420.0 301.5 421.7 302.0 423.0 302.5 423.7 303.0 424.0 303.5 423.7 304.0 423.0 304.5 421.8 305.0 420.1 305.5 418.1 306.0 415.6 306.5 412.9 307.0 409.9 307.5 406.7 308.0 403.3 308.5 399.7 309.0 396.1 309.5 392.3 310.0 388.6 310.5 384.8 311.0 381.1 311.5 377.4 312.0 373.9 312.5 370.4 313.0 367.1 313.5 363.9 314.0 360.9 314.5 358.2 315.0 355.6 315.5 353.4 316.0 351.3 316.5 349.6 317.0 348.2 317.5 347.1 318.0 346.3 318.5 345.8 319.0 345.6 319.5 346.6 320.1 349.6 320.6 354.7 321.1 361.8 321.7 371.0 322.2 382.4 322.7 396.3 323.2 412.9 323.8 432.6 324.3 455.9 324.8 482.7 325.4 509.1 325.9 521.9 326.4 518.3 326.9 509.0 327.4 496.6 327.9 483.1 328.4 469.6 328.9 456.5 329.4 444.2 330.0 432.9 330.5 422.6 331.0 413.6 331.5 406.1 332.0 400.0 332.5 395.6 333.0 392.9 333.5 392.0 334.0 392.7 334.5 395.0 335.0 398.7 335.5 404.1 336.0 411.3 336.5 420.5 337.0 432.0 337.5 446.3 338.0 463.9 338.5 485.9 339.0 513.7 339.5 548.8 340.0 589.8 340.5 614.0 341.0 575.5 341.5 523.0 342.0 483.1 342.5 453.2 343.0 429.9 343.5 411.3 344.0 396.2 344.5 384.0 345.0 374.0 345.5 366.0 346.0 359.7 346.5 354.9 347.0 351.6 347.5 349.6 348.0 349.0 348.5 349.4 349.0 350.7 349.5 352.8 350.0 355.5 350.5 358.9 351.0 362.8 351.5 367.1 352.0 371.5 352.5 376.0 353.0 380.3 353.5 384.4 354.0 388.0 354.5 390.9 355.0 393.2 355.5 394.5 356.0 395.0 356.5 394.5 357.0 393.2 357.6 391.1 358.1 388.2 358.6 384.7 359.1 380.7 359.6 376.4 360.1 371.9 360.7 367.3 361.2 362.9 361.7 358.7 362.2 355.0 362.7 351.7 363.2 349.1 363.8 347.1 364.3 345.9 364.8 345.5 365.3 346.2 365.8 348.1 366.3 351.5 366.8 356.3 367.3 362.7 367.8 370.8 368.3 380.9 368.9 393.4 369.4 408.8 369.9 428.1 370.4 452.5 370.9 484.8 371.4 530.5 371.9 604.4 372.4 708.8 372.9 626.7 373.4 556.8 373.9 511.7 374.4 479.3 374.9 454.4 375.4 434.5 375.9 418.2 376.4 404.7 376.9 393.3 377.5 383.8 378.0 375.8 378.5 369.2 379.0 363.7 379.5 359.4 380.0 356.1 380.5 353.8 381.0 352.5 381.5 352.0 382.0 352.6 382.5 354.3 383.0 357.0 383.5 360.8 384.0 365.3 384.5 370.4 385.0 376.0 385.5 381.8 386.0 387.6 386.5 393.0 387.0 398.0 387.5 402.2 388.0 405.3 388.5 407.3 389.0 408.0 389.5 406.9 390.1 403.7 390.6 398.7 391.1 392.4 391.6 385.4 392.2 378.2 392.7 371.4 393.2 365.4 393.7 360.9 394.3 358.0 394.8 357.0 395.3 357.6 395.8 359.2 396.3 362.0 396.9 365.6 397.4 370.1 397.9 375.2 398.4 380.7 398.9 386.3 399.4 392.0 399.9 397.4 400.4 402.2 401.0 406.3 401.5 409.4 402.0 411.3 402.5 412.0 403.0 411.5 403.5 410.1 404.0 407.9 404.6 404.9 405.1 401.2 405.6 397.0 406.1 392.5 406.6 387.6 407.1 382.6 407.6 377.5 408.2 372.4 408.7 367.5 409.2 362.8 409.7 358.5 410.2 354.5 410.7 351.1 411.2 348.1 411.8 345.8 412.3 344.1 412.8 343.0 413.3 342.7 413.8 343.2 414.3 344.6 414.8 346.9 415.4 350.0 415.9 353.7 416.4 358.0 416.9 362.5 417.4 367.3 417.9 371.9 418.4 376.3 418.9 380.2 419.5 383.5 420.0 385.9 420.5 387.5 421.0 388.0 421.5 387.7 422.0 386.8 422.5 385.3 423.0 383.3 423.5 380.8 424.0 378.1 424.5 375.1 425.0 371.9 425.5 368.8 426.0 365.8 426.5 363.1 427.0 360.7 427.5 358.7 428.0 357.2 428.5 356.3 429.0 356.0 429.5 356.5 430.0 358.1 430.5 360.7 431.0 364.2 431.5 368.7 432.0 374.0 432.5 380.0 433.0 386.6 433.5 393.8 434.0 401.3 434.5 409.1 435.0 417.0 435.5 424.9 436.0 432.5 436.5 439.5 437.0 445.7 437.5 450.7 438.0 453.9 438.5 455.0 439.0 453.5 439.5 449.1 440.0 442.6 440.5 434.7 441.0 425.9 441.5 416.6 442.0 407.4 442.5 398.3 443.0 389.6 443.5 381.7 444.0 374.5 444.5 368.4 445.0 363.5 445.5 359.9 446.0 357.7 446.5 357.0 447.0 357.4 447.5 358.6 448.0 360.5 448.5 363.2 449.0 366.4 449.5 370.1 450.0 374.2 450.5 378.6 451.0 383.1 451.5 387.6 452.0 391.8 452.5 395.8 453.0 399.2 453.5 402.1 454.0 404.2 454.5 405.6 455.0 406.0 455.5 405.3 456.1 403.3 456.6 400.2 457.1 396.0 457.6 391.0 458.1 385.5 458.7 379.7 459.2 373.8 459.7 367.9 460.2 362.4 460.8 357.3 461.3 353.0 461.8 349.4 462.3 346.8 462.9 345.1 463.4 344.6 463.9 345.0 464.4 346.1 464.9 348.0 465.4 350.7 465.9 354.0 466.4 357.9 466.9 362.5 467.4 367.6 467.9 373.1 468.4 379.0 468.9 385.2 469.5 391.6 470.0 398.2 470.5 404.8 471.0 411.3 471.5 417.6 472.0 423.5 472.5 428.9 473.0 433.5 473.5 437.0 474.0 439.2 474.5 440.0 475.0 439.9 475.5 439.7 476.0 439.4 476.5 439.0 477.0 438.5 477.5 438.1 478.0 437.8 478.5 437.6 479.0 437.5 479.5 438.1 480.0 439.9 480.5 442.7 481.0 446.7 481.5 451.7 482.0 457.6 482.5 464.2 483.0 471.6 483.5 479.4 484.0 487.7 484.5 496.1 485.0 504.6 485.5 512.9 486.0 520.7 486.5 527.7 487.0 533.3 487.5 537.0 488.0 538.3 488.5 535.5 489.0 528.1 489.5 517.8 490.0 506.2 490.5 494.3 491.0 482.7 491.5 471.5 492.0 461.0 492.5 451.1 493.0 441.9 493.5 433.4 494.0 425.6 494.5 418.7 495.0 412.6 495.5 407.3 496.0 402.9 496.5 399.5 497.0 397.0 497.5 395.5 498.0 395.0 498.5 395.3 499.0 396.0 499.5 397.3 500.0 399.1 500.5 401.5 501.1 404.4 501.6 407.9 502.1 412.0 502.6 416.8 503.1 422.3 503.6 428.7 504.1 435.9 504.6 444.0 505.1 453.3 505.6 463.9 506.1 476.1 506.6 490.1 507.1 506.4 507.7 525.6 508.2 548.5 508.7 576.4 509.2 610.1 509.7 647.0 510.2 667.1 510.7 652.5 511.2 623.0 511.7 594.0 512.2 569.4 512.7 549.0 513.2 532.1 513.8 518.3 514.3 506.9 514.8 497.7 515.3 490.4 515.8 484.9 516.3 481.1 516.8 478.8 517.3 478.0 517.8 479.7 518.3 484.7 518.9 492.6 519.4 502.9 519.9 514.7 520.4 527.2 520.9 539.3 521.5 549.9 522.0 557.3 522.5 560.0 523.0 552.4 523.5 534.1 524.0 512.6 524.5 491.7 525.0 472.9 525.5 456.2 526.1 441.5 526.6 428.6 527.1 417.1 527.6 407.0 528.1 398.0 528.6 390.0 529.1 382.9 529.6 376.6 530.1 371.0 530.6 366.1 531.1 361.8 531.6 358.1 532.2 355.0 532.7 352.3 533.2 350.2 533.7 348.6 534.2 347.4 534.7 346.7 535.2 346.5 535.7 346.9 536.2 347.9 536.7 349.7 537.3 352.2 537.8 355.2 538.3 358.9 538.8 363.0 539.3 367.6 539.8 372.5 540.3 377.6 540.9 383.0 541.4 388.4 541.9 393.7 542.4 398.9 542.9 403.8 543.4 408.3 543.9 412.2 544.5 415.5 545.0 418.0 545.5 419.5 546.0 420.0 546.5 419.7 547.0 418.8 547.5 417.3 548.0 415.3 548.5 412.8 549.0 409.9 549.5 406.6 550.0 403.1 550.5 399.3 551.0 395.4 551.5 391.3 552.0 387.2 552.5 383.1 553.0 379.1 553.5 375.2 554.0 371.4 554.5 367.9 555.0 364.6 555.5 361.5 556.0 358.9 556.5 356.5 557.0 354.6 557.5 353.0 558.0 351.9 558.5 351.2 559.0 351.0 559.5 351.1 560.0 351.3 560.5 351.8 561.0 352.3 561.5 353.1 562.0 354.0 562.5 355.1 563.0 356.3 563.5 357.7 564.0 359.3 564.5 361.0 565.0 362.8 565.5 364.8 566.0 367.0 566.5 369.3 567.0 371.7 567.5 374.2 568.0 376.9 568.5 379.6 569.0 382.5 569.5 385.5 570.0 388.6 570.5 391.8 571.0 395.1 571.5 398.5 572.0 401.9 572.5 405.5 573.0 409.1 573.5 412.8 574.0 416.5 574.5 420.3 575.0 424.1 575.5 427.9 576.0 431.8 576.5 435.7 577.0 439.6 577.5 443.5 578.0 447.3 578.5 451.0 579.0 454.6 579.5 458.1 580.0 461.4 580.5 464.4 581.0 467.2 581.5 469.5 582.0 471.4 582.5 472.8 583.0 473.7 583.5 474.0 584.0 473.7 584.5 473.0 585.0 471.7 585.5 470.0 586.0 467.9 586.5 465.5 587.0 462.7 587.5 459.7 588.0 456.6 588.5 453.2 589.0 449.8 589.5 446.3 590.0 442.7 590.5 439.1 591.0 435.5 591.5 431.9 592.0 428.2 592.5 424.6 593.0 421.1 593.5 417.5 594.0 414.1 594.5 410.6 595.0 407.2 595.5 403.9 596.0 400.6 596.5 397.4 597.0 394.3 597.5 391.2 598.0 388.2 598.5 385.3 599.0 382.5 599.5 379.7 600.0 377.1 600.5 374.5 601.0 372.0 601.5 369.6 602.0 367.4 602.5 365.2 603.0 363.1 603.5 361.2 604.0 359.3 604.5 357.6 605.0 356.0 605.5 354.5 606.0 353.1 606.5 351.9 607.0 350.8 607.5 349.8 608.0 348.9 608.5 348.2 609.0 347.6 609.5 347.1 610.0 346.8 610.5 346.6 611.0 346.5 611.5 346.7 612.0 347.2 612.5 348.0 613.0 349.1 613.5 350.5 614.0 352.2 614.5 354.2 615.1 356.5 615.6 358.9 616.1 361.6 616.6 364.4 617.1 367.4 617.6 370.5 618.1 373.7 618.6 376.9 619.1 380.1 619.6 383.4 620.1 386.5 620.6 389.6 621.1 392.5 621.6 395.3 622.2 397.8 622.7 400.1 623.2 402.1 623.7 403.8 624.2 405.2 624.7 406.2 625.2 406.8 625.7 407.0 626.2 406.8 626.7 406.1 627.2 404.9 627.8 403.4 628.3 401.5 628.8 399.3 629.3 396.8 629.8 394.1 630.3 391.2 630.9 388.3 631.4 385.5 631.9 382.6 632.4 380.0 632.9 377.5 633.4 375.3 633.9 373.5 634.5 372.0 635.0 370.9 635.5 370.2 636.0 370.0 636.5 370.2 637.0 370.7 637.5 371.6 638.0 372.8 638.6 374.3 639.1 376.2 639.6 378.3 640.1 380.7 640.6 383.4 641.1 386.3 641.6 389.4 642.1 392.6 642.6 396.0 643.1 399.4 643.7 402.9 644.2 406.5 644.7 410.0 645.2 413.5 645.7 416.9 646.2 420.1 646.7 423.2 647.2 426.1 647.7 428.7 648.2 430.9 648.8 432.9 649.3 434.4 649.8 435.6 650.3 436.3 650.8 436.5 651.3 436.0 651.8 434.4 652.3 432.0 652.8 428.7 653.3 424.8 653.8 420.4 654.4 415.5 654.9 410.4 655.4 405.0 655.9 399.6 656.4 394.2 656.9 388.8 657.4 383.6 657.9 378.5 658.4 373.8 658.9 369.3 659.4 365.2 660.0 361.6 660.5 358.5 661.0 355.8 661.5 353.7 662.0 352.2 662.5 351.3 663.0 351.0 663.5 351.3 664.0 352.1 664.5 353.4 665.0 355.2 665.5 357.5 666.0 360.1 666.5 363.2 667.0 366.6 667.5 370.2 668.0 374.0 668.5 377.9 669.0 381.9 669.5 385.8 670.0 389.6 670.5 393.2 671.0 396.6 671.5 399.6 672.0 402.1 672.5 404.2 673.0 405.7 673.5 406.7 674.0 407.0 674.5 406.9 675.0 406.6 675.5 406.0 676.0 405.3 676.5 404.3 677.0 403.2 677.6 401.9 678.1 400.5 678.6 398.9 679.1 397.2 679.6 395.5 680.1 393.7 680.6 391.9 681.1 390.1 681.6 388.3 682.1 386.5 682.6 384.9 683.1 383.3 683.6 381.9 684.2 380.6 684.7 379.5 685.2 378.5 685.7 377.8 686.2 377.2 686.7 376.9 687.2 376.8 687.7 377.0 688.2 377.6 688.7 378.6 689.2 380.0 689.8 381.8 690.3 383.9 690.8 386.4 691.3 389.1 691.8 392.2 692.3 395.5 692.8 399.0 693.3 402.7 693.8 406.5 694.4 410.5 694.9 414.5 695.4 418.5 695.9 422.5 696.4 426.4 696.9 430.2 697.4 433.9 697.9 437.3 698.4 440.4 698.9 443.2 699.5 445.5 700.0 447.4 700.5 448.8 701.0 449.7 701.5 450.0 702.0 449.6 702.5 448.4 703.0 446.4 703.5 443.8 704.0 440.6 704.5 437.0 705.0 432.9 705.5 428.7 706.1 424.2 706.6 419.5 707.1 414.8 707.6 410.0 708.1 405.2 708.6 400.5 709.1 395.8 709.6 391.2 710.1 386.7 710.6 382.4 711.1 378.3 711.6 374.3 712.1 370.6 712.6 367.1 713.1 363.8 713.7 360.9 714.2 358.2 714.7 355.9 715.2 353.9 715.7 352.3 716.2 351.0 716.7 350.0 717.2 349.5 717.7 349.3 718.2 349.5 718.7 350.0 719.2 350.8 719.7 352.0 720.2 353.5 720.8 355.4 721.3 357.5 721.8 360.0 722.3 362.7 722.8 365.6 723.3 368.9 723.8 372.3 724.3 375.9 724.8 379.8 725.3 383.8 725.8 387.9 726.4 392.1 726.9 396.4 727.4 400.8 727.9 405.2 728.4 409.6 728.9 414.0 729.4 418.3 729.9 422.5 730.4 426.5 730.9 430.3 731.4 433.8 732.0 437.0 732.5 439.7 733.0 442.0 733.5 443.6 734.0 444.7 734.5 445.0 735.0 443.4 735.5 441.9 736.0 440.3 736.5 438.7 737.0 437.2 737.5 435.6 738.0 434.0 738.5 432.5 739.0 430.9 739.5 429.3 740.0 427.8 740.5 426.2 741.0 424.7 741.5 423.1 742.0 421.5 742.5 420.0 743.0 418.4 743.5 416.8 744.0 415.3 744.5 413.7 745.0 412.1 745.5 410.6 746.0 409.0 746.5 407.6 747.0 406.2 747.5 404.8 748.0 403.5 748.5 402.1 749.0 400.8 749.5 399.5 750.0 398.2 750.5 397.0 751.0 395.7 751.5 394.5 752.0 393.3 752.5 392.1 753.0 391.0 753.5 389.8 754.0 388.7 754.6 387.6 755.1 386.5 755.6 385.5 756.1 384.4 756.6 383.4 757.1 382.4 757.6 381.5 758.1 380.5 758.6 379.6 759.1 378.7 759.6 377.8 760.1 376.9 760.6 376.1 761.1 375.3 761.6 374.5 762.1 373.7 762.6 372.9 763.1 372.2 763.6 371.5 764.1 370.8 764.6 370.2 765.1 369.5 765.6 368.9 766.1 368.3 766.6 367.7 767.1 367.2 767.6 366.7 768.1 366.1 768.6 365.7 769.1 365.2 769.6 364.8 770.1 364.3 770.6 364.0 771.2 363.6 771.7 363.2 772.2 362.9 772.7 362.6 773.2 362.3 773.7 362.1 774.2 361.8 774.7 361.6 775.2 361.4 775.7 361.3 776.2 361.1 776.7 361.0 777.2 360.9 777.7 360.8 778.2 360.7 778.7 360.7 779.2 360.7 779.7 360.8 780.2 361.1 780.7 361.5 781.2 362.1 781.7 363.0 782.2 364.0 782.7 365.1 783.2 366.5 783.7 368.0 784.2 369.7 784.8 371.6 785.3 373.7 785.8 376.0 786.3 378.4 786.8 381.1 787.3 383.9 787.8 386.9 788.3 390.1 788.8 393.5 789.3 397.1 789.8 400.9 790.3 404.9 790.8 409.1 791.3 413.5 791.8 418.2 792.3 423.1 792.8 428.3 793.3 433.7 793.8 439.3 794.3 445.3 794.8 451.5 795.3 458.0 795.9 464.8 796.4 471.9 796.9 479.3 797.4 486.9 797.9 494.7 798.4 502.4 798.9 510.1 799.4 517.2 799.9 523.6 800.4 528.6 800.9 531.9 801.4 533.0 801.9 532.5 802.4 530.9 802.9 528.4 803.4 525.2 803.9 521.2 804.4 516.8 804.9 512.0 805.4 507.0 805.9 501.8 806.4 496.4 806.9 491.1 807.4 485.7 807.9 480.4 808.4 475.2 808.9 470.1 809.4 465.1 809.9 460.4 810.4 455.8 810.9 451.5 811.4 447.5 811.9 443.8 812.4 440.4 812.9 437.4 813.4 434.7 813.9 432.4 814.4 430.4 814.9 428.9 815.4 427.9 815.9 427.2 816.4 427.0 816.9 427.1 817.4 427.4 817.9 427.9 818.4 428.6 818.9 429.5 819.4 430.6 819.9 431.9 820.4 433.5 820.9 435.2 821.5 437.2 822.0 439.4 822.5 441.9 823.0 444.6 823.5 447.5 824.0 450.8 824.5 454.3 825.0 458.1 825.5 462.3 826.0 466.7 826.5 471.6 827.0 476.8 827.5 482.5 828.0 488.6 828.5 495.2 829.0 502.4 829.5 510.1 830.0 518.5 830.5 527.6 831.1 537.5 831.6 548.3 832.1 559.9 832.6 572.5 833.1 585.9 833.6 599.8 834.1 613.6 834.6 625.9 835.1 634.7 835.6 638.0 836.1 634.0 836.6 623.4 837.1 609.0 837.6 593.5 838.1 578.0 838.6 563.4 839.1 549.8 839.6 537.3 840.1 525.8 840.6 515.1 841.1 505.3 841.6 496.2 842.1 487.7 842.6 479.8 843.1 472.4 843.6 465.5 844.2 459.0 844.7 452.9 845.2 447.2 845.7 441.7 846.2 436.6 846.7 431.7 847.2 427.1 847.7 422.7 848.2 418.5 848.7 414.6 849.2 410.8 849.7 407.2 850.2 403.8 850.7 400.5 851.2 397.4 851.7 394.5 852.2 391.6 852.7 389.0 853.2 386.4 853.7 384.0 854.2 381.7 854.7 379.4 855.2 377.4 855.7 375.4 856.2 373.5 856.7 371.7 857.2 370.0 857.7 368.4 858.2 366.9 858.7 365.5 859.2 364.1 859.8 362.9 860.3 361.7 860.8 360.6 861.3 359.6 861.8 358.7 862.3 357.9 862.8 357.1 863.3 356.4 863.8 355.8 864.3 355.3 864.8 354.8 865.3 354.4 865.8 354.1 866.3 353.8 866.8 353.6 867.3 353.5 867.8 353.5 868.3 353.5 868.8 353.6 869.3 353.8 869.8 354.1 870.3 354.4 870.8 354.8 871.3 355.2 871.8 355.8 872.3 356.4 872.8 357.0 873.3 357.8 873.8 358.6 874.3 359.5 874.8 360.4 875.3 361.4 875.8 362.5 876.3 363.7 876.8 364.9 877.3 366.2 877.8 367.6 878.3 369.0 878.8 370.6 879.3 372.1 879.8 373.8 880.3 375.5 880.8 377.3 881.3 379.2 881.8 381.1 882.3 383.2 882.8 385.3 883.3 387.4 883.8 389.7 884.3 392.0 884.8 394.4 885.3 396.8 885.8 399.4 886.3 402.0 886.8 404.7 887.3 407.5 887.8 410.4 888.3 413.4 888.8 416.4 889.3 419.6 889.8 422.8 890.3 426.2 890.8 429.6 891.3 433.1 891.8 436.8 892.3 440.5 892.8 444.3 893.3 448.3 893.8 452.3 894.3 456.5 894.8 460.7 895.3 465.1 895.8 469.6 896.3 474.1 896.8 478.7 897.3 483.3 897.8 488.0 898.3 492.7 898.8 497.3 899.3 501.8 899.8 506.1 900.3 510.2 900.8 513.9 901.3 517.1 901.8 519.8 902.3 521.8 902.8 523.0 903.3 523.4 903.8 520.8 904.3 518.2 904.8 515.5 905.3 512.8 905.8 510.0 906.3 507.1 906.8 504.2 907.3 501.3 907.8 498.3 908.3 495.3 908.8 492.4 909.3 489.4 909.8 486.4 910.3 483.4 910.8 480.4 911.3 477.5 911.8 474.6 912.3 471.7 912.8 468.9 913.3 466.1 913.8 463.3 914.3 460.6 914.8 457.9 915.3 455.3 915.8 452.7 916.3 450.2 916.8 447.7 917.3 445.3 917.8 442.8 918.3 440.5 918.9 438.2 919.4 435.9 919.9 433.7 920.4 431.5 920.9 429.3 921.4 427.2 921.9 425.2 922.4 423.2 922.9 421.2 923.4 419.2 923.9 417.3 924.4 415.5 924.9 413.6 925.4 411.8 925.9 410.0 926.4 408.3 926.9 406.6 927.4 404.9 927.9 403.3 928.4 401.7 928.9 400.1 929.4 398.6 929.9 397.1 930.4 395.6 930.9 394.1 931.4 392.7 931.9 391.3 932.4 390.0 932.9 388.6 933.4 387.3 933.9 386.0 934.4 384.7 934.9 383.5 935.4 382.3 935.9 381.1 936.4 380.0 936.9 378.8 937.4 377.7 937.9 376.6 938.4 375.6 938.9 374.5 939.4 373.5 939.9 372.5 940.4 371.5 940.9 370.6 941.4 369.7 941.9 368.7 942.4 367.9 942.9 367.0 943.4 366.2 943.9 365.4 944.4 364.6 944.9 363.8 945.4 363.0 945.9 362.3 946.4 361.6 946.9 360.9 947.4 360.2 947.9 359.6 948.4 359.0 949.0 358.4 949.5 357.8 950.0 357.2 950.5 356.7 951.0 356.1 951.5 355.6 952.0 355.2 952.5 354.7 953.0 354.2 953.5 353.8 954.0 353.4 954.5 353.0 955.0 352.7 955.5 352.3 956.0 352.0 956.5 351.7 957.0 351.4 957.5 351.2 958.0 350.9 958.5 350.7 959.0 350.5 959.5 350.3 960.0 350.1 960.5 350.0 961.0 349.9 961.5 349.7 962.0 349.7 962.5 349.6 963.0 349.5 963.5 349.5 964.0 349.5 964.5 349.5 965.0 349.5 965.5 349.5 966.0 349.5 966.5 349.5 967.0 349.5 967.5 349.5 968.0 349.5 968.5 349.5 969.0 349.5 969.5 349.5 970.0 349.5 970.5 349.5 971.0 349.5 971.5 349.5 972.0 349.5 972.5 349.5 973.0 349.5 973.5 349.5 974.0 349.5 974.5 349.4 975.0 349.4 975.5 349.4 976.0 349.4 976.5 349.4 977.0 349.4 977.5 349.4 978.0 349.4 978.5 349.4 979.0 349.4 979.5 349.4 980.0 349.4 980.5 349.4 981.0 349.4 981.5 349.4 982.0 349.4 982.5 349.4 983.0 349.4 983.5 349.4 984.0 349.4 984.5 349.4 985.0 349.4 985.5 349.4 986.0 349.4 986.5 349.4 987.0 349.4 987.5 349.4 988.0 349.4 988.5 349.4 989.0 349.4 989.5 349.4 990.0 349.4 990.5 349.4 991.0 349.4 991.5 349.4 992.0 349.4 992.5 349.4 993.0 349.4 993.5 349.4 994.0 349.4 994.5 349.4 995.0 349.3 995.5 349.3 996.0 349.3 996.5 349.3 997.0 349.3 997.5 349.3 998.0 349.3 998.5 349.3 999.0 349.3 999.5 349.3 1000.0 349.3 1000.5 349.3 1001.0 349.3 1001.5 349.3 1002.0 349.3 1002.5 349.3 1003.0 349.3 1003.5 349.3 1004.0 349.3 1004.5 349.3 1005.0 349.3" stroke="#00f" stroke-width="2.6" stroke-dasharray="20.2 12.1"/>
<path d="M118.2 35.2 118.5 35.4 119.0 35.6 119.5 35.8 120.0 36.3 120.5 36.8 120.9 37.4 121.5 38.3 122.1 39.8 122.3 40.5 122.6 41.3 122.9 42.2 123.2 43.1 123.5 44.2 123.8 45.2 124.1 46.3 124.4 47.4 124.7 48.5 125.0 49.6 125.3 50.7 125.6 51.7 125.9 52.7 126.1 53.7 126.4 54.7 126.7 55.6 126.9 56.6 127.2 57.6 127.4 58.6 127.7 59.6 127.9 60.6 128.1 61.5 128.4 62.5 128.6 63.5 128.8 64.5 129.0 65.5 129.2 66.4 129.4 67.4 129.6 68.4 129.8 69.4 130.0 70.4 130.2 71.4 130.3 72.3 130.5 73.3 130.7 74.3 130.9 75.3 131.1 76.3 131.3 77.3 131.5 78.3 131.7 79.3 131.9 80.3 132.0 81.2 132.2 82.2 132.4 83.2 132.6 84.2 132.8 85.2 132.9 86.2 133.1 87.2 133.3 88.3 133.4 89.3 133.6 90.4 133.7 91.4 133.9 92.5 134.0 93.6 134.1 94.6 134.3 95.7 134.4 96.8 134.6 97.9 134.7 99.0 134.8 100.0 135.0 100.9 135.1 101.9 135.2 102.9 135.4 104.0 135.5 105.0 135.6 106.0 135.8 107.0 135.9 108.0 136.0 109.0 136.2 110.0 136.3 111.0 136.4 112.0 136.5 113.0 136.6 114.0 136.7 115.0 136.8 115.9 136.9 116.9 137.0 117.8 137.1 118.8 137.1 119.7 137.2 120.7 137.3 121.8 137.4 122.9 137.5 124.0 137.6 124.9 137.6 125.7 137.7 126.6 137.8 127.4 137.9 128.2 137.9 129.1 138.0 130.0 138.1 130.9 138.1 131.8 138.2 132.8 138.3 133.8 138.4 134.9 138.4 136.1 138.5 137.3 138.6 138.6 138.7 140.0 138.8 140.8 138.8 141.6 138.9 142.4 138.9 143.2 139.0 144.1 139.0 144.9 139.1 145.8 139.1 146.7 139.2 147.6 139.2 148.5 139.3 149.4 139.3 150.4 139.4 151.3 139.4 152.3 139.5 153.3 139.6 154.3 139.6 155.4 139.7 156.4 139.7 157.5 139.8 158.6 139.9 159.8 139.9 160.9 140.0 162.1 140.1 163.3 140.1 164.6 140.2 165.8 140.3 167.1 140.3 168.4 140.4 169.8 140.4 170.6 140.5 171.5 140.5 172.3 140.6 173.2 140.6 174.1 140.7 174.9 140.7 175.9 140.8 176.8 140.8 177.7 140.9 178.7 140.9 179.6 141.0 180.6 141.0 181.6 141.1 182.5 141.1 183.5 141.2 184.6 141.2 185.6 141.3 186.6 141.3 187.6 141.4 188.7 141.4 189.7 141.5 190.8 141.5 191.8 141.6 192.9 141.7 193.9 141.7 195.0 141.8 196.1 141.8 197.1 141.9 198.2 141.9 199.3 142.0 200.4 142.0 201.5 142.1 202.5 142.1 203.6 142.2 204.7 142.3 205.8 142.3 206.9 142.4 207.9 142.4 209.0 142.5 210.1 142.5 211.2 142.6 212.2 142.6 213.3 142.7 214.3 142.7 215.4 142.8 216.4 142.8 217.5 142.9 218.5 142.9 219.5 142.9 220.5 143.0 221.5 143.0 222.5 143.1 223.6 143.1 224.6 143.2 225.6 143.2 226.6 143.3 227.6 143.3 228.6 143.3 229.7 143.4 230.7 143.4 231.7 143.5 232.7 143.5 233.7 143.6 234.7 143.6 235.8 143.7 236.8 143.7 237.8 143.7 238.8 143.8 239.8 143.8 240.8 143.9 241.9 143.9 242.9 143.9 243.9 144.0 244.9 144.0 245.9 144.1 246.9 144.1 248.0 144.1 249.0 144.2 250.0 144.2 251.0 144.3 252.0 144.3 253.0 144.3 254.1 144.4 255.1 144.4 256.1 144.5 257.1 144.5 258.1 144.5 259.1 144.6 260.2 144.6 261.2 144.6 262.2 144.7 263.2 144.7 264.2 144.8 265.2 144.8 266.3 144.8 267.3 144.9 268.3 144.9 269.3 144.9 270.3 145.0 271.3 145.0 272.3 145.0 273.3 145.1 274.2 145.1 275.2 145.1 276.1 145.2 277.1 145.2 278.0 145.2 278.9 145.3 279.9 145.3 280.8 145.3 281.7 145.4 282.6 145.4 283.5 145.4 284.4 145.5 285.3 145.5 286.2 145.5 287.1 145.6 288.0 145.6 289.0 145.6 289.9 145.7 290.8 145.7 291.7 145.7 292.7 145.7 293.6 145.8 294.6 145.8 295.5 145.8 296.5 145.9 297.5 145.9 298.4 145.9 299.4 146.0 300.5 146.0 301.5 146.0 302.5 146.0 303.6 146.1 304.6 146.1 305.7 146.1 306.8 146.1 308.0 146.2 309.1 146.2 310.3 146.2 311.4 146.3 312.6 146.3 313.9 146.3 315.1 146.3 316.4 146.4 317.7 146.4 319.0 146.4 319.8 146.4 320.6 146.4 321.4 146.5 322.3 146.5 323.1 146.5 324.0 146.5 324.8 146.5 325.7 146.5 326.5 146.6 327.4 146.6 328.3 146.6 329.1 146.6 330.0 146.6 330.9 146.6 331.8 146.7 332.7 146.7 333.6 146.7 334.5 146.7 335.4 146.7 336.4 146.7 337.3 146.7 338.2 146.8 339.2 146.8 340.1 146.8 341.1 146.8 342.0 146.8 343.0 146.8 343.9 146.8 344.9 146.9 345.9 146.9 346.9 146.9 347.8 146.9 348.8 146.9 349.8 146.9 350.8 146.9 351.8 147.0 352.8 147.0 353.8 147.0 354.8 147.0 355.8 147.0 356.9 147.0 357.9 147.0 358.9 147.1 359.9 147.1 361.0 147.1 362.0 147.1 363.1 147.1 364.1 147.1 365.1 147.1 366.2 147.2 367.3 147.2 368.3 147.2 369.4 147.2 370.4 147.2 371.5 147.2 372.6 147.2 373.6 147.3 374.7 147.3 375.8 147.3 376.9 147.3 378.0 147.3 379.0 147.3 380.1 147.3 381.2 147.4 382.3 147.4 383.4 147.4 384.5 147.4 385.6 147.4 386.7 147.4 387.8 147.4 388.9 147.5 390.0 147.5 391.1 147.5 392.2 147.5 393.3 147.5 394.4 147.5 395.5 147.6 396.7 147.6 397.8 147.6 398.9 147.6 400.0 147.6 400.9 147.6 401.8 147.6 402.7 147.7 403.6 147.7 404.6 147.7 405.5 147.7 406.4 147.7 407.3 147.7 408.3 147.7 409.2 147.7 410.1 147.8 411.1 147.8 412.0 147.8 412.9 147.8 413.9 147.8 414.8 147.8 415.8 147.8 416.7 147.8 417.7 147.9 418.6 147.9 419.6 147.9 420.5 147.9 421.5 147.9 422.5 147.9 423.4 147.9 424.4 147.9 425.4 148.0 426.3 148.0 427.3 148.0 428.3 148.0 429.3 148.0 430.3 148.0 431.2 148.0 432.2 148.1 433.2 148.1 434.2 148.1 435.2 148.1 436.2 148.1 437.2 148.1 438.2 148.1 439.2 148.1 440.2 148.2 441.2 148.2 442.2 148.2 443.2 148.2 444.2 148.2 445.2 148.2 446.2 148.2 447.2 148.2 448.2 148.3 449.2 148.3 450.2 148.3 451.2 148.3 452.3 148.3 453.3 148.3 454.3 148.3 455.3 148.4 456.3 148.4 457.4 148.4 458.4 148.4 459.4 148.4 460.4 148.4 461.5 148.4 462.5 148.4 463.5 148.5 464.6 148.5 465.6 148.5 466.6 148.5 467.7 148.5 468.7 148.5 469.7 148.5 470.8 148.6 471.8 148.6 472.8 148.6 473.9 148.6 474.9 148.6 476.0 148.6 477.0 148.6 478.0 148.6 479.1 148.7 480.1 148.7 481.2 148.7 482.2 148.7 483.2 148.7 484.3 148.7 485.3 148.7 486.4 148.7 487.4 148.8 488.5 148.8 489.5 148.8 490.6 148.8 491.6 148.8 492.7 148.8 493.7 148.8 494.8 148.8 495.8 148.9 496.9 148.9 497.9 148.9 499.0 148.9 500.0 149.5 554.9 150.1 609.7 150.7 553.1 151.2 496.6 151.8 440.0 151.9 436.6 151.9 433.6 151.9 430.8 152.0 428.4 152.0 426.2 152.1 424.3 152.1 422.6 152.2 421.1 152.2 419.8 152.2 418.7 152.3 417.8 152.3 417.0 152.4 416.4 152.4 415.9 152.4 415.5 152.5 415.1 152.5 414.9 152.6 414.7 152.6 414.5 152.6 414.4 152.7 414.2 152.7 414.1 152.8 413.9 152.8 413.7 152.9 413.4 152.9 413.0 153.0 412.6 153.0 412.0 153.2 409.8 153.4 408.2 153.6 407.1 153.8 406.4 154.1 405.8 154.3 405.2 154.6 404.5 155.2 403.4 155.8 402.7 156.4 402.0 157.0 401.0 157.3 400.2 157.6 399.3 157.9 398.3 158.2 397.3 158.5 396.2 158.8 395.1 159.0 394.0 159.2 393.1 159.3 392.2 159.4 391.4 159.5 390.5 159.6 389.5 159.7 388.5 159.8 387.4 160.0 386.3 160.1 385.0 160.2 384.2 160.3 383.3 160.3 382.4 160.4 381.5 160.5 380.6 160.6 379.6 160.7 378.6 160.8 377.6 160.9 376.6 161.0 375.5 161.1 374.4 161.2 373.4 161.4 372.2 161.5 371.1 161.7 370.0 162.2 366.0 162.7 362.4 163.2 359.1 163.7 356.3 164.2 354.0 164.7 352.3 165.2 351.3 165.7 351.0 166.2 351.5 166.7 353.1 167.3 355.6 167.8 359.0 168.3 363.2 168.8 368.2 169.3 373.6 169.8 379.5 170.4 385.6 170.9 391.7 171.4 397.6 171.9 403.2 172.4 408.3 172.9 412.5 173.5 415.7 174.0 417.7 174.5 418.4 175.0 418.2 175.5 417.5 176.0 416.3 176.6 414.8 177.1 412.9 177.6 410.8 178.1 408.5 178.6 406.1 179.1 403.7 179.6 401.4 180.1 399.3 180.6 397.4 181.2 395.9 181.7 394.7 182.2 394.0 182.7 393.8 183.2 394.4 183.7 396.2 184.2 399.3 184.8 403.4 185.3 408.6 185.8 414.8 186.3 421.8 186.8 429.6 187.3 438.0 187.9 447.0 188.4 456.3 188.9 465.7 189.4 475.2 189.9 484.3 190.4 492.7 191.0 499.6 191.5 504.3 192.0 506.0 192.5 505.5 193.0 504.1 193.5 501.8 194.0 498.8 194.5 495.3 195.0 491.3 195.6 487.0 196.1 482.4 196.6 477.6 197.1 472.7 197.6 467.6 198.1 462.4 198.6 457.1 199.1 451.7 199.6 446.2 200.1 440.8 200.6 435.3 201.1 429.8 201.6 424.3 202.1 418.9 202.7 413.5 203.2 408.2 203.7 403.0 204.2 397.9 204.7 392.9 205.2 388.1 205.7 383.5 206.2 379.1 206.7 374.9 207.2 370.9 207.7 367.2 208.2 363.7 208.7 360.5 209.2 357.6 209.8 355.0 210.3 352.8 210.8 350.8 211.3 349.3 211.8 348.0 212.3 347.1 212.8 346.6 213.3 346.4 213.8 346.9 214.3 348.5 214.8 351.0 215.3 354.5 215.9 358.7 216.4 363.7 216.9 369.2 217.4 375.1 217.9 381.3 218.4 387.5 218.9 393.5 219.4 399.1 220.0 404.2 220.5 408.5 221.0 411.7 221.5 413.8 222.0 414.5 222.5 414.1 223.0 412.8 223.5 410.9 224.0 408.2 224.5 405.1 225.0 401.6 225.6 397.9 226.1 394.3 226.6 390.8 227.1 387.7 227.6 385.1 228.1 383.1 228.6 381.9 229.1 381.5 229.6 381.9 230.1 383.3 230.6 385.4 231.1 388.2 231.6 391.6 232.1 395.3 232.6 399.3 233.2 403.3 233.7 407.1 234.2 410.5 234.7 413.4 235.2 415.6 235.7 416.9 236.2 417.4 236.7 416.5 237.3 413.7 237.8 409.4 238.3 403.8 238.8 397.4 239.4 390.5 239.9 383.4 240.4 376.4 241.0 369.9 241.5 364.2 242.0 359.5 242.5 355.9 243.1 353.7 243.6 353.0 244.1 353.6 244.6 355.4 245.1 358.4 245.6 362.4 246.1 367.5 246.6 373.4 247.1 379.9 247.6 387.1 248.1 394.6 248.6 402.3 249.1 409.9 249.6 417.2 250.1 424.0 250.6 429.9 251.1 434.5 251.6 437.5 252.1 438.5 252.6 437.2 253.1 433.3 253.6 427.5 254.1 420.2 254.6 412.0 255.1 403.5 255.7 395.2 256.2 387.7 256.7 381.4 257.2 376.5 257.7 373.5 258.2 372.5 258.7 373.2 259.3 375.3 259.8 378.8 260.3 383.8 260.8 390.3 261.4 398.5 261.9 408.4 262.4 420.2 262.9 434.3 263.5 451.0 264.0 470.7 264.5 493.9 265.0 520.1 265.6 545.3 266.1 557.0 266.6 538.2 267.1 503.1 267.6 470.7 268.1 444.2 268.6 422.6 269.1 405.0 269.6 390.6 270.2 378.8 270.7 369.1 271.2 361.2 271.7 355.1 272.2 350.4 272.7 347.2 273.2 345.2 273.7 344.6 274.2 345.2 274.8 346.8 275.3 349.7 275.8 353.7 276.3 359.0 276.9 365.7 277.4 374.0 277.9 384.0 278.4 396.0 278.9 410.4 279.5 427.6 280.0 448.3 280.5 473.1 281.1 501.8 281.6 530.4 282.1 544.2 282.6 536.5 283.1 518.8 283.6 498.4 284.1 478.9 284.6 461.2 285.1 445.5 285.6 431.7 286.1 419.7 286.6 409.4 287.1 400.9 287.6 394.3 288.1 389.5 288.6 386.6 289.1 385.6 289.6 386.6 290.1 389.7 290.6 394.8 291.1 401.7 291.6 410.3 292.1 420.6 292.6 432.2 293.1 445.0 293.6 458.9 294.1 473.5 294.6 488.5 295.1 502.5 295.6 513.4 296.1 517.7 296.6 512.1 297.1 498.4 297.7 481.6 298.2 464.6 298.7 448.6 299.2 433.9 299.7 420.6 300.3 408.6 300.8 398.1 301.3 389.0 301.8 381.4 302.3 375.5 302.9 371.2 303.4 368.6 303.9 367.7 304.4 368.6 304.9 371.1 305.4 375.6 305.9 381.9 306.4 390.4 306.9 401.3 307.5 415.2 308.0 432.7 308.5 454.8 309.0 483.3 309.5 520.4 310.0 566.4 310.5 596.3 311.0 574.2 311.5 535.3 312.0 500.7 312.5 472.8 313.0 450.2 313.5 431.5 314.0 416.0 314.5 403.0 315.0 392.0 315.5 382.7 316.0 374.9 316.5 368.4 317.0 363.1 317.5 358.8 318.0 355.6 318.5 353.3 319.0 351.9 319.5 351.5 320.0 352.3 320.5 354.5 321.1 358.2 321.6 363.0 322.1 368.8 322.6 375.2 323.2 381.9 323.7 388.5 324.2 394.7 324.7 400.0 325.3 404.2 325.8 406.8 326.3 407.7 326.8 406.8 327.3 404.1 327.8 399.9 328.3 394.5 328.8 388.2 329.3 381.4 329.8 374.4 330.3 367.6 330.8 361.2 331.3 355.6 331.8 351.0 332.3 347.5 332.8 345.3 333.3 344.6 333.8 345.1 334.3 346.6 334.9 349.2 335.4 352.8 335.9 357.6 336.4 363.6 336.9 371.0 337.4 379.9 338.0 390.6 338.5 403.4 339.0 418.7 339.5 437.2 340.0 459.8 340.5 487.8 341.1 522.7 341.6 562.7 342.1 585.7 342.6 565.3 343.1 528.3 343.6 494.8 344.1 467.4 344.6 445.1 345.1 426.9 345.6 411.7 346.1 399.0 346.6 388.4 347.1 379.5 347.6 372.2 348.1 366.2 348.6 361.4 349.1 357.8 349.6 355.2 350.1 353.7 350.6 353.2 351.1 353.9 351.6 356.0 352.1 359.4 352.6 364.0 353.1 369.6 353.6 376.0 354.1 383.1 354.7 390.5 355.2 397.9 355.7 405.1 356.2 411.8 356.7 417.6 357.2 422.1 357.7 425.0 358.2 426.0 358.7 424.9 359.2 421.8 359.7 416.9 360.3 410.7 360.8 403.6 361.3 396.0 361.8 388.4 362.3 381.2 362.8 374.8 363.4 369.4 363.9 365.4 364.4 362.9 364.9 362.0 365.4 362.6 365.9 364.6 366.4 367.9 366.9 372.6 367.4 378.8 367.9 386.7 368.4 396.6 368.9 408.7 369.4 423.4 369.9 441.5 370.4 464.0 370.9 492.3 371.4 528.3 371.9 571.0 372.4 597.0 372.9 575.4 373.4 537.0 373.9 502.7 374.4 474.8 374.9 452.0 375.4 433.3 375.9 417.6 376.4 404.3 376.9 393.1 377.5 383.5 378.0 375.3 378.5 368.4 379.0 362.6 379.5 357.9 380.0 354.1 380.5 351.2 381.0 349.1 381.5 347.9 382.0 347.5 382.5 348.1 383.0 350.0 383.6 353.1 384.1 357.3 384.6 362.7 385.1 369.2 385.6 376.6 386.1 385.0 386.6 394.3 387.2 404.3 387.7 415.0 388.2 426.4 388.7 438.3 389.2 450.4 389.8 462.3 390.3 472.9 390.8 480.5 391.3 483.4 391.8 481.6 392.4 476.5 392.9 468.8 393.4 459.6 393.9 449.6 394.5 439.4 395.0 429.6 395.5 420.8 396.0 413.5 396.6 407.9 397.1 404.5 397.6 403.3 398.1 404.3 398.6 407.3 399.2 412.4 399.7 419.9 400.2 429.9 400.7 442.9 401.2 459.5 401.7 480.7 402.2 507.9 402.8 542.7 403.3 583.8 403.8 608.4 404.3 588.0 404.8 550.9 405.4 517.0 405.9 489.2 406.4 466.3 406.9 447.3 407.4 431.2 407.9 417.4 408.5 405.6 409.0 395.3 409.5 386.3 410.0 378.6 410.5 371.8 411.1 366.0 411.6 361.0 412.1 356.8 412.6 353.3 413.1 350.5 413.6 348.3 414.2 346.8 414.7 345.9 415.2 345.6 415.7 345.9 416.2 346.8 416.8 348.4 417.3 350.5 417.8 353.4 418.3 356.9 418.8 361.1 419.3 366.2 419.9 372.1 420.4 378.9 420.9 386.8 421.4 395.9 421.9 406.4 422.5 418.5 423.0 432.7 423.5 449.4 424.0 469.5 424.5 494.1 425.0 525.3 425.6 566.8 426.1 623.0 426.6 667.1 427.1 651.9 427.6 621.9 428.1 592.8 428.6 568.2 429.1 547.9 429.6 531.2 430.2 517.5 430.7 506.4 431.2 497.6 431.7 490.9 432.2 486.2 432.7 483.4 433.2 482.5 433.8 482.5 434.4 482.5 434.9 482.5 435.5 482.5 436.0 482.3 436.5 481.5 437.0 480.3 437.5 478.7 438.0 476.6 438.5 474.2 439.0 471.6 439.5 468.7 440.0 465.6 440.5 462.3 441.0 458.9 441.5 455.4 442.0 451.9 442.5 448.2 443.0 444.6 443.5 441.0 444.0 437.3 444.5 433.7 445.0 430.1 445.5 426.5 446.0 423.0 446.5 419.5 447.0 416.1 447.6 412.8 448.1 409.5 448.6 406.4 449.1 403.3 449.6 400.3 450.1 397.4 450.6 394.7 451.1 392.0 451.6 389.5 452.1 387.1 452.6 384.9 453.1 382.8 453.6 380.8 454.1 379.0 454.6 377.4 455.1 375.9 455.6 374.6 456.1 373.4 456.6 372.4 457.1 371.6 457.6 371.0 458.1 370.6 458.6 370.3 459.1 370.2 459.6 370.6 460.1 371.7 460.6 373.6 461.1 376.2 461.6 379.4 462.1 383.1 462.6 387.4 463.1 392.1 463.6 397.1 464.1 402.3 464.6 407.7 465.1 413.0 465.6 418.1 466.1 423.0 466.6 427.5 467.1 431.4 467.6 434.7 468.1 437.2 468.6 438.7 469.1 439.2 469.6 438.5 470.1 436.6 470.6 433.4 471.1 429.3 471.6 424.4 472.1 418.9 472.6 413.0 473.1 406.9 473.6 400.8 474.2 394.9 474.7 389.2 475.2 384.0 475.7 379.3 476.2 375.3 476.7 372.1 477.2 369.7 477.7 368.3 478.2 367.8 478.7 368.4 479.2 370.2 479.7 373.2 480.2 377.3 480.7 382.5 481.2 388.6 481.7 395.6 482.2 403.3 482.7 411.6 483.2 420.4 483.7 429.6 484.2 438.8 484.7 448.1 485.2 456.9 485.7 465.0 486.2 471.6 486.7 476.1 487.2 477.7 487.7 476.3 488.2 472.4 488.7 466.5 489.2 459.3 489.7 451.3 490.2 442.9 490.7 434.4 491.2 425.9 491.7 417.6 492.2 409.6 492.7 401.9 493.2 394.7 493.7 388.0 494.2 381.9 494.7 376.5 495.2 371.8 495.7 367.9 496.2 364.8 496.7 362.5 497.2 361.2 497.7 360.7 498.2 361.3 498.7 362.9 499.2 365.7 499.7 369.4 500.2 374.0 500.7 379.4 501.2 385.4 501.7 391.9 502.3 398.6 502.8 405.4 503.3 412.1 503.8 418.5 504.3 424.3 504.8 429.2 505.3 433.0 505.8 435.4 506.3 436.2 506.8 435.7 507.4 434.4 507.9 432.2 508.4 429.3 508.9 425.8 509.5 421.7 510.0 417.4 510.5 412.9 511.1 408.3 511.6 403.8 512.1 399.6 512.7 395.8 513.2 392.6 513.7 389.9 514.2 387.9 514.8 386.7 515.3 386.3 515.8 386.7 516.3 387.8 516.8 389.7 517.3 392.1 517.8 395.0 518.3 398.3 518.8 401.8 519.3 405.2 519.8 408.5 520.3 411.4 520.8 413.9 521.3 415.8 521.8 416.9 522.3 417.3 522.8 416.9 523.3 415.7 523.8 413.9 524.3 411.3 524.8 408.2 525.3 404.6 525.8 400.7 526.3 396.4 526.8 392.0 527.3 387.4 527.8 382.8 528.3 378.3 528.8 374.0 529.3 369.8 529.8 366.0 530.3 362.5 530.8 359.5 531.3 356.9 531.8 354.9 532.3 353.4 532.8 352.5 533.3 352.2 533.8 352.6 534.3 353.7 534.8 355.5 535.3 358.0 535.8 361.2 536.3 364.9 536.8 369.2 537.3 373.9 537.8 378.9 538.3 384.3 538.9 389.8 539.4 395.4 539.9 400.9 540.4 406.3 540.9 411.5 541.4 416.2 541.9 420.3 542.4 423.8 542.9 426.4 543.4 428.0 543.9 428.6 544.4 428.1 544.9 426.5 545.5 424.0 546.0 420.7 546.5 416.7 547.0 412.2 547.5 407.4 548.0 402.5 548.6 397.6 549.1 392.9 549.6 388.6 550.1 384.9 550.6 381.9 551.2 379.6 551.7 378.3 552.2 377.8 552.7 378.3 553.2 379.8 553.7 382.2 554.2 385.6 554.8 389.8 555.3 394.9 555.8 400.7 556.3 407.2 556.8 414.3 557.3 421.9 557.8 429.8 558.3 438.1 558.8 446.5 559.3 455.0 559.9 463.3 560.4 471.1 560.9 478.2 561.4 483.9 561.9 487.7 562.4 489.0 562.9 487.2 563.4 482.1 563.9 474.8 564.4 466.0 564.9 456.6 565.4 447.0 565.9 437.4 566.4 428.2 566.9 419.2 567.4 410.7 567.9 402.6 568.4 395.1 568.9 388.0 569.4 381.6 569.9 375.8 570.4 370.7 570.9 366.3 571.4 362.6 571.9 359.7 572.4 357.7 572.9 356.4 573.4 356.0 573.9 356.4 574.4 357.5 574.9 359.3 575.4 361.8 575.9 364.9 576.4 368.6 576.9 372.9 577.4 377.7 577.9 382.8 578.4 388.3 578.9 394.1 579.4 400.0 579.9 406.0 580.4 412.0 580.9 417.8 581.4 423.4 581.9 428.6 582.4 433.2 582.9 437.1 583.4 440.0 583.9 441.9 584.4 442.5 584.9 441.8 585.4 439.8 586.0 436.7 586.5 432.5 587.0 427.6 587.5 422.0 588.1 416.1 588.6 410.0 589.1 403.9 589.6 397.9 590.1 392.2 590.7 386.9 591.2 382.2 591.7 378.2 592.2 375.0 592.8 372.6 593.3 371.2 593.8 370.7 594.3 371.1 594.8 372.2 595.3 374.2 595.8 376.9 596.3 380.3 596.8 384.5 597.3 389.4 597.8 395.1 598.3 401.5 598.8 408.6 599.3 416.4 599.9 425.1 600.4 434.5 600.9 444.7 601.4 455.8 601.9 467.7 602.4 480.5 602.9 493.9 603.4 507.5 603.9 519.9 604.4 529.1 604.9 532.6 605.4 529.8 605.9 522.1 606.4 511.4 607.0 499.6 607.5 487.4 608.0 475.7 608.5 464.4 609.0 453.9 609.5 444.0 610.0 434.8 610.5 426.3 611.1 418.4 611.6 411.2 612.1 404.8 612.6 399.0 613.1 393.9 613.6 389.6 614.1 386.1 614.7 383.3 615.2 381.3 615.7 380.1 616.2 379.7 616.7 380.1 617.2 381.5 617.7 383.6 618.2 386.6 618.7 390.3 619.2 394.7 619.7 399.7 620.2 405.2 620.7 411.2 621.2 417.4 621.7 423.9 622.2 430.4 622.7 436.8 623.2 443.1 623.7 448.9 624.2 454.2 624.7 458.7 625.2 462.1 625.7 464.3 626.2 465.0 626.7 464.1 627.2 461.4 627.7 457.2 628.2 451.9 628.8 445.8 629.3 439.3 629.8 432.4 630.3 425.4 630.8 418.5 631.3 411.5 631.8 404.8 632.3 398.2 632.9 391.8 633.4 385.7 633.9 379.9 634.4 374.5 634.9 369.5 635.4 364.9 635.9 360.7 636.4 357.1 636.9 353.9 637.5 351.3 638.0 349.3 638.5 347.8 639.0 346.9 639.5 346.6 640.0 346.8 640.5 347.5 641.0 348.7 641.5 350.4 642.1 352.6 642.6 355.3 643.1 358.5 643.6 362.3 644.1 366.7 644.6 371.8 645.1 377.6 645.6 384.1 646.2 391.6 646.7 400.0 647.2 409.6 647.7 420.4 648.2 432.9 648.7 447.3 649.2 464.1 649.7 484.0 650.3 508.2 650.8 538.3 651.3 576.9 651.8 624.5 652.3 655.8 652.8 642.6 653.3 614.9 653.8 586.4 654.4 561.3 654.9 540.0 655.4 521.9 655.9 506.4 656.4 493.1 656.9 481.5 657.4 471.4 658.0 462.6 658.5 454.9 659.0 448.3 659.5 442.5 660.0 437.6 660.5 433.4 661.0 429.9 661.5 427.1 662.1 425.0 662.6 423.5 663.1 422.6 663.6 422.3 664.1 422.9 664.6 424.5 665.1 427.3 665.6 431.1 666.1 436.0 666.6 441.8 667.1 448.6 667.6 456.2 668.1 464.5 668.6 473.7 669.1 483.4 669.6 493.8 670.1 504.7 670.6 516.0 671.1 527.3 671.6 538.3 672.1 547.9 672.6 554.8 673.1 557.3 673.6 552.9 674.1 541.5 674.6 526.4 675.1 510.2 675.7 494.5 676.2 479.8 676.7 466.4 677.2 454.1 677.7 442.9 678.2 432.8 678.7 423.6 679.2 415.1 679.8 407.4 680.3 400.4 680.8 394.0 681.3 388.1 681.8 382.7 682.3 377.8 682.8 373.3 683.3 369.3 683.9 365.6 684.4 362.2 684.9 359.2 685.4 356.6 685.9 354.2 686.4 352.2 686.9 350.4 687.4 348.9 688.0 347.7 688.5 346.8 689.0 346.1 689.5 345.7 690.0 345.6 690.5 345.7 691.0 346.1 691.5 346.7 692.0 347.6 692.6 348.8 693.1 350.2 693.6 351.9 694.1 353.9 694.6 356.2 695.1 358.8 695.6 361.7 696.1 364.9 696.7 368.5 697.2 372.5 697.7 376.8 698.2 381.6 698.7 386.9 699.2 392.6 699.7 398.9 700.2 405.9 700.7 413.5 701.3 421.9 701.8 431.2 702.3 441.5 702.8 453.1 703.3 466.1 703.8 481.0 704.3 498.3 704.8 518.5 705.4 542.9 705.9 572.9 706.4 611.0 706.9 656.9 707.4 686.1 707.9 669.0 708.4 635.9 709.0 604.3 709.5 577.8 710.0 555.8 710.5 537.5 711.0 522.1 711.6 509.0 712.1 497.8 712.6 488.3 713.1 480.2 713.7 473.4 714.2 467.6 714.7 462.9 715.2 459.1 715.7 456.2 716.3 454.2 716.8 453.0 717.3 452.6 717.8 453.0 718.3 454.4 718.8 456.6 719.3 459.8 719.8 463.8 720.3 468.8 720.8 474.9 721.3 481.9 721.8 490.1 722.3 499.5 722.8 510.2 723.3 522.5 723.8 536.4 724.3 552.2 724.8 570.1 725.3 589.9 725.8 610.4 726.3 627.7 726.8 635.0 727.3 625.1 727.8 602.5 728.3 577.5 728.8 554.1 729.3 533.5 729.8 515.4 730.4 499.5 730.9 485.4 731.4 472.8 731.9 461.5 732.4 451.2 732.9 441.9 733.4 433.4 733.9 425.6 734.4 418.4 734.9 411.8 735.4 405.7 735.9 400.0 736.4 394.8 736.9 389.9 737.5 385.4 738.0 381.2 738.5 377.3 739.0 373.7 739.5 370.4 740.0 367.4 740.5 364.5 741.0 362.0 741.5 359.6 742.0 357.5 742.5 355.5 743.0 353.8 743.5 352.3 744.0 350.9 744.6 349.8 745.1 348.8 745.6 348.0 746.1 347.4 746.6 346.9 747.1 346.7 747.6 346.6 748.1 346.7 748.6 347.1 749.1 347.7 749.6 348.5 750.1 349.6 750.7 350.9 751.2 352.5 751.7 354.4 752.2 356.5 752.7 358.9 753.2 361.6 753.7 364.6 754.2 367.9 754.7 371.6 755.2 375.6 755.7 380.0 756.2 384.7 756.8 390.0 757.3 395.7 757.8 401.9 758.3 408.7 758.8 416.2 759.3 424.4 759.8 433.4 760.3 443.3 760.8 454.3 761.3 466.5 761.8 480.2 762.3 495.7 762.9 513.1 763.4 532.9 763.9 554.9 764.4 578.0 764.9 598.0 765.4 606.5 765.9 602.1 766.4 590.7 766.9 575.6 767.4 559.4 767.9 543.7 768.4 528.9 768.9 515.3 769.4 502.9 769.9 491.6 770.4 481.3 770.9 471.9 771.4 463.2 771.9 455.3 772.4 448.0 772.9 441.3 773.4 435.1 773.9 429.4 774.4 424.2 775.0 419.3 775.5 414.9 776.0 410.7 776.5 407.0 777.0 403.5 777.5 400.3 778.0 397.4 778.5 394.8 779.0 392.4 779.5 390.3 780.0 388.5 780.5 386.8 781.0 385.4 781.5 384.3 782.0 383.3 782.5 382.6 783.0 382.0 783.5 381.7 784.0 381.6 784.5 381.8 785.0 382.2 785.5 383.1 786.0 384.2 786.5 385.6 787.0 387.3 787.5 389.4 788.0 391.7 788.6 394.2 789.1 397.1 789.6 400.1 790.1 403.4 790.6 406.9 791.1 410.5 791.6 414.3 792.1 418.3 792.6 422.3 793.1 426.5 793.6 430.7 794.1 435.0 794.6 439.3 795.1 443.6 795.6 447.8 796.1 452.0 796.6 456.0 797.2 459.8 797.7 463.5 798.2 466.9 798.7 469.9 799.2 472.5 799.7 474.6 800.2 476.2 800.7 477.2 801.2 477.5 801.7 477.1 802.2 476.0 802.7 474.2 803.2 471.7 803.7 468.7 804.2 465.3 804.7 461.6 805.2 457.6 805.7 453.5 806.2 449.2 806.7 444.8 807.3 440.4 807.8 436.0 808.3 431.6 808.8 427.3 809.3 423.0 809.8 418.7 810.3 414.6 810.8 410.5 811.3 406.4 811.8 402.5 812.3 398.7 812.8 394.9 813.3 391.3 813.8 387.8 814.3 384.3 814.8 381.1 815.3 377.9 815.8 374.8 816.3 371.9 816.8 369.2 817.3 366.5 817.8 364.0 818.3 361.7 818.8 359.5 819.4 357.5 819.9 355.6 820.4 353.9 820.9 352.4 821.4 351.1 821.9 349.9 822.4 348.9 822.9 348.1 823.4 347.4 823.9 347.0 824.4 346.7 824.9 346.6 825.4 346.6 825.9 346.8 826.4 347.0 826.9 347.4 827.4 347.8 827.9 348.4 828.4 349.0 828.9 349.7 829.4 350.6 830.0 351.5 830.5 352.6 831.0 353.7 831.5 355.0 832.0 356.4 832.5 357.8 833.0 359.4 833.5 361.2 834.0 363.0 834.5 365.0 835.0 367.1 835.5 369.3 836.0 371.7 836.5 374.3 837.0 376.9 837.5 379.8 838.0 382.8 838.5 386.0 839.1 389.3 839.6 392.9 840.1 396.7 840.6 400.6 841.1 404.9 841.6 409.3 842.1 414.1 842.6 419.1 843.1 424.4 843.6 430.1 844.1 436.2 844.6 442.7 845.1 449.6 845.6 457.0 846.1 465.0 846.6 473.6 847.1 483.0 847.6 493.1 848.2 504.2 848.7 516.4 849.2 529.8 849.7 544.6 850.2 561.0 850.7 579.0 851.2 598.1 851.7 616.9 852.2 631.9 852.7 637.9 853.2 634.7 853.7 626.0 854.2 613.8 854.7 600.1 855.2 586.1 855.7 572.6 856.2 559.9 856.7 548.0 857.3 536.9 857.8 526.6 858.3 517.0 858.8 508.1 859.3 499.8 859.8 492.0 860.3 484.7 860.8 477.9 861.3 471.5 861.8 465.4 862.3 459.6 862.8 454.2 863.3 449.1 863.8 444.2 864.3 439.6 864.8 435.1 865.3 431.0 865.9 427.0 866.4 423.1 866.9 419.5 867.4 416.1 867.9 412.7 868.4 409.6 868.9 406.6 869.4 403.7 869.9 400.9 870.4 398.3 870.9 395.8 871.4 393.4 871.9 391.1 872.4 388.9 872.9 386.9 873.4 384.9 874.0 383.0 874.5 381.2 875.0 379.5 875.5 377.9 876.0 376.4 876.5 374.9 877.0 373.6 877.5 372.3 878.0 371.1 878.5 369.9 879.0 368.9 879.5 367.9 880.0 367.0 880.5 366.2 881.0 365.4 881.5 364.7 882.0 364.1 882.6 363.5 883.1 363.0 883.6 362.6 884.1 362.2 884.6 361.9 885.1 361.7 885.6 361.5 886.1 361.4 886.6 361.4 887.1 361.4 887.6 361.5 888.1 361.6 888.6 361.7 889.1 361.9 889.6 362.1 890.1 362.4 890.6 362.7 891.1 363.0 891.6 363.4 892.1 363.8 892.6 364.3 893.1 364.8 893.6 365.3 894.1 365.9 894.6 366.5 895.1 367.1 895.6 367.8 896.1 368.5 896.6 369.3 897.1 370.1 897.6 370.9 898.1 371.7 898.6 372.6 899.2 373.6 899.7 374.5 900.2 375.5 900.7 376.5 901.2 377.6 901.7 378.7 902.2 379.8 902.7 380.9 903.2 382.1 903.7 383.3 904.2 384.5 904.7 385.8 905.2 387.0 905.7 388.4 906.2 389.7 906.7 391.0 907.2 392.4 907.7 393.8 908.2 395.2 908.7 396.7 909.2 398.1 909.7 399.6 910.2 401.1 910.7 402.6 911.2 404.1 911.7 405.7 912.2 407.2 912.7 408.8 913.2 410.4 913.7 412.0 914.2 413.6 914.7 415.2 915.2 416.8 915.7 418.5 916.2 420.1 916.7 421.8 917.2 423.4 917.7 425.1 918.2 426.7 918.7 428.4 919.2 430.1 919.7 431.7 920.2 433.4 920.7 435.0 921.2 436.7 921.7 438.3 922.2 439.9 922.7 441.6 923.2 443.2 923.7 444.8 924.3 446.3 924.8 447.9 925.3 449.4 925.8 450.9 926.3 452.4 926.8 453.8 927.3 455.2 927.8 456.6 928.3 457.9 928.8 459.2 929.3 460.4 929.8 461.5 930.3 462.6 930.8 463.7 931.3 464.6 931.8 465.5 932.3 466.3 932.8 467.1 933.3 467.7 933.8 468.2 934.3 468.7 934.8 469.0 935.3 469.3 935.8 469.4 936.3 469.5 936.8 468.7 937.3 467.9 937.8 467.1 938.3 466.3 938.8 465.5 939.3 464.7 939.8 463.9 940.3 463.2 940.8 462.4 941.3 461.6 941.8 460.9 942.3 460.1 942.8 459.4 943.3 458.7 943.8 457.9 944.3 457.2 944.8 456.5 945.3 455.8 945.8 455.1 946.3 454.4 946.8 453.7 947.3 453.0 947.8 452.3 948.3 451.6 948.8 451.0 949.3 450.3 949.8 449.6 950.3 449.0 950.8 448.3 951.3 447.7 951.8 447.1 952.3 446.4 952.8 445.8 953.3 445.2 953.9 444.6 954.4 444.0 954.9 443.4 955.4 442.8 955.9 442.2 956.4 441.6 956.9 441.0 957.4 440.5 957.9 439.9 958.4 439.4 958.9 438.8 959.4 438.3 959.9 437.7 960.4 437.2 960.9 436.7 961.4 436.1 961.9 435.6 962.4 435.1 962.9 434.6 963.4 434.1 963.9 433.6 964.4 433.1 964.9 432.7 965.4 432.2 965.9 431.7 966.4 431.3 966.9 430.8 967.4 430.4 967.9 429.9 968.4 429.5 968.9 429.1 969.4 428.6 969.9 428.2 970.4 427.8 970.9 427.4 971.4 427.0 971.9 426.6 972.4 426.2 972.9 425.8 973.4 425.5 973.9 425.1 974.4 424.7 974.9 424.4 975.4 424.0 975.9 423.7 976.4 423.3 976.9 423.0 977.4 422.7 977.9 422.4 978.4 422.1 978.9 421.7 979.4 421.4 979.9 421.1 980.4 420.8 980.9 420.6 981.4 420.3 981.9 420.0 982.4 419.7 982.9 419.5 983.4 419.2 983.9 419.0 984.4 418.7 984.9 418.5 985.4 418.3 985.9 418.0 986.4 417.8 986.9 417.6 987.4 417.4 988.0 417.2 988.5 417.0 989.0 416.8 989.5 416.6 990.0 416.4 990.5 416.3 991.0 416.1 991.5 415.9 992.0 415.8 992.5 415.6 993.0 415.5 993.5 415.3 994.0 415.2 994.5 415.1 995.0 415.0 995.5 414.9 996.0 414.7 996.5 414.6 997.0 414.5 997.5 414.5 998.0 414.4 998.5 414.3 999.0 414.2 999.5 414.2 1000.0 414.1 1000.5 414.0 1001.0 414.0 1001.5 413.9 1002.0 413.9 1002.5 413.9 1003.0 413.8 1003.5 413.8 1004.0 413.8 1004.5 413.8 1005.0 413.8" stroke="#f00" stroke-width="6" stroke-linecap="round"/></g>
<rect x="506.7" y="35.25" width="494.10" height="126.15" fill="#fff" stroke="#262626" stroke-width="1.5"/>
<path d="M515 58.9H596" stroke="#000" stroke-width="3" stroke-dasharray="16 6.2 4 6.2"/>
<path d="M515 97.8H596" stroke="#00f" stroke-width="2.5" stroke-dasharray="20.2 12.1"/>
<path d="M515 137.9H596" stroke="#f00" stroke-width="6"/>
<g font-size="32.7" fill="#000"><text x="602" y="69.5">k=1</text><text x="602" y="109">kmax=1.2,kmin=0.8,tmax=5</text><text x="602" y="148.5">kmax=1.2,kmin=0.8,tmax=10</text></g>
</svg></body></html>
